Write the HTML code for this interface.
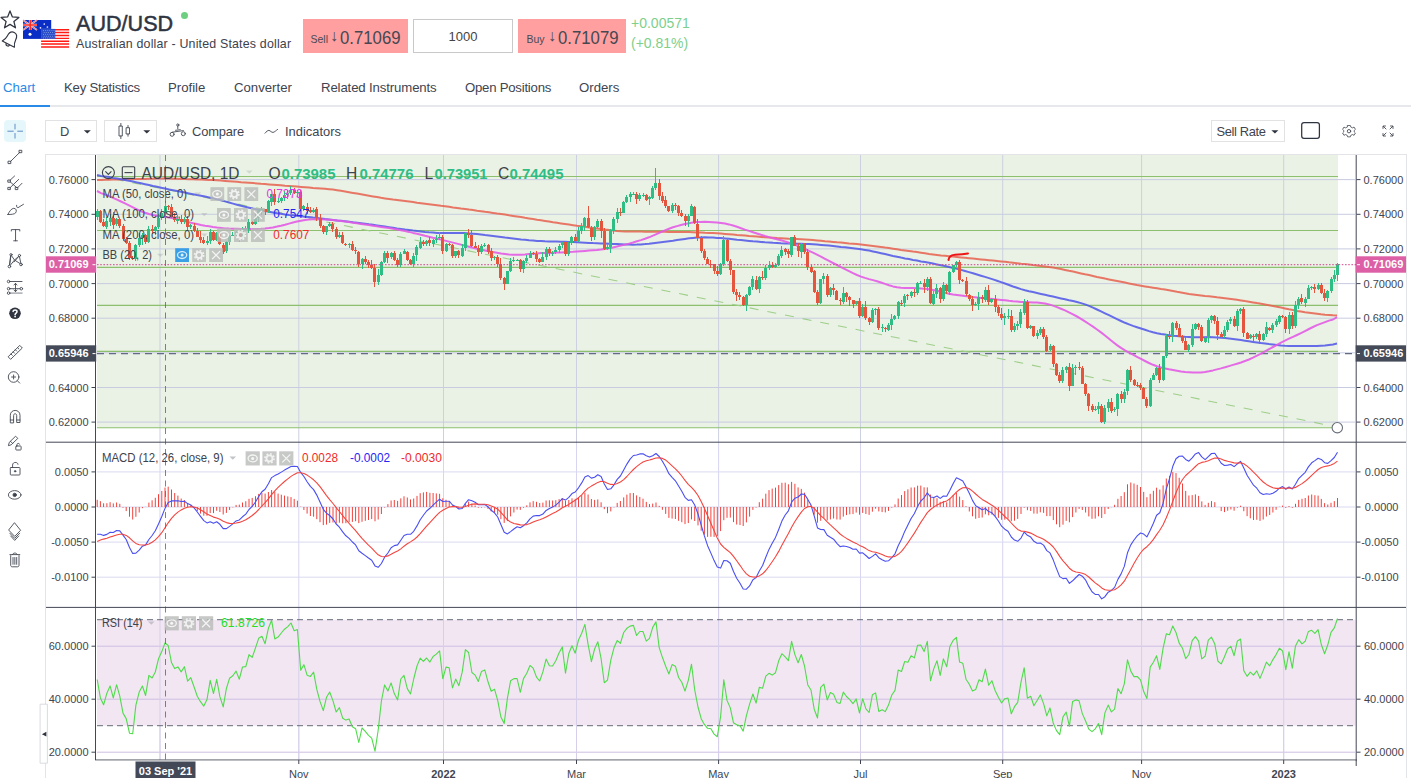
<!DOCTYPE html>
<html><head><meta charset="utf-8"><title>AUD/USD</title>
<style>
*{box-sizing:border-box}
html,body{margin:0;padding:0;background:#fff}
body{width:1422px;height:778px;overflow:hidden;position:relative;font-family:"Liberation Sans",sans-serif;color:#3a3f4a}
.abs{position:absolute;white-space:nowrap}
#title{left:76px;top:11px;font-size:21.6px;line-height:25px;color:#2f3441;-webkit-text-stroke:0.5px #2f3441}
#sub{left:76px;top:37px;font-size:12.4px;line-height:15px;color:#3c414d;letter-spacing:.18px}
.pbox{top:18.7px;height:34.2px;background:#ff9f9f;color:#444;}
.pbox .s{position:absolute;top:14px;font-size:10.5px;color:#4a4a55}
.pbox .a{position:absolute;top:8.5px;font-size:16px;color:#4a4a55}
.pbox .v{position:absolute;top:9px;font-size:18px;color:#454852;transform:scaleX(.93);transform-origin:0 0}
#qty{left:413px;top:18.7px;width:100px;height:34.2px;border:1px solid #c9c9c9;text-align:center;font-size:13px;line-height:33.5px;color:#444}
.chg{left:631px;font-size:14px;color:#7dcf8b}
.tab{top:80px;font-size:13.2px;color:#40444f}
.tbtn{top:120px;height:22px;border:1px solid #e2e2e2;background:#fff}
.tl{font-size:12.9px;color:#40444f;top:123.5px}
.lg{font-size:11.8px;color:#3d424c}
.ib{width:14px;height:14px;background:#bdbdbd;opacity:.85}
.ib.b{background:#3b9fe6;opacity:1}
.ib svg{display:block}
</style></head><body>
<!-- header -->
<svg class="abs" style="left:0;top:0" width="75" height="60" viewBox="0 0 75 60">
 <path d="M10.0 10.9L12.4 16.9L18.9 17.4L13.9 21.5L15.5 27.8L10.0 24.4L4.5 27.8L6.1 21.5L1.1 17.4L7.6 16.9Z" fill="none" stroke="#30343f" stroke-width="1.25" stroke-linejoin="round"/>
 <g transform="translate(10.8 39.3) rotate(27) scale(.92) translate(-10 -39.5)" fill="none" stroke="#30343f" stroke-width="1.25" stroke-linejoin="round"><path d="M10 31.2C6.3 31.2 5 34.6 5 38C5 41.6 3.8 43.6 2.6 45.4H17.4C16.2 43.6 15 41.6 15 38C15 34.6 13.7 31.2 10 31.2Z"/><path d="M7.6 45.6a2 2 0 0 0 4 0"/></g>
 <!-- AU flag -->
 <rect x="23" y="20" width="28.2" height="18.9" fill="#0a2dc6"/>
 <path d="M23 20l14 10M37 20L23 30" stroke="#dfe3f7" stroke-width="1.6"/>
 <path d="M23 20l14 10M37 20L23 30" stroke="#ff3b30" stroke-width=".7"/>
 <path d="M30.2 20v10M23 25h14" stroke="#e9ecfa" stroke-width="2.6"/>
 <path d="M30.2 20v10M23 25h14" stroke="#ff2a20" stroke-width="1.7"/>
 <circle cx="30" cy="34.2" r="1.5" fill="#fff"/><circle cx="44.3" cy="24" r=".85" fill="#e6eaff"/><circle cx="47.4" cy="27" r=".85" fill="#e6eaff"/><circle cx="40.5" cy="27.8" r=".85" fill="#e6eaff"/>
 <!-- US flag -->
 <rect x="41.1" y="28.9" width="28" height="19" fill="#fff"/>
 <path d="M41.1 29.65h28M41.1 32.55h28M41.1 35.45h28M41.1 38.35h28M41.1 41.2h28M41.1 44.05h28M41.1 47h28" stroke="#ff1a14" stroke-width="1.45"/>
 <rect x="41.1" y="28.9" width="14.2" height="10" fill="#2a4dc9"/>
 <path d="M43 30.6h11.5M43.7 32.5h11M43 34.4h11.5M43.7 36.300h11M43 38h11.5" stroke="#7f97e4" stroke-width=".9" stroke-dasharray="1,1.1"/>
</svg>
<div class="abs" id="title">AUD/USD</div>
<div class="abs" style="left:181px;top:12px;width:7px;height:7px;border-radius:50%;background:#6ecf80"></div>
<div class="abs" id="sub">Australian dollar - United States dollar</div>
<div class="abs pbox" style="left:303px;width:105px"><span class="s" style="left:7.5px">Sell</span><span class="a" style="left:27px">&#8595;</span><span class="v" style="left:37px">0.71069</span></div>
<div class="abs" id="qty">1000</div>
<div class="abs pbox" style="left:518px;width:107.5px"><span class="s" style="left:8.5px">Buy</span><span class="a" style="left:30px">&#8595;</span><span class="v" style="left:39.6px">0.71079</span></div>
<div class="abs chg" style="top:15px">+0.00571</div>
<div class="abs chg" style="top:35px">(+0.81%)</div>
<!-- tabs -->
<div class="abs" style="left:0;top:104.6px;width:1411px;height:2px;background:#e6e8ec"></div>
<div class="abs" style="left:0;top:104.6px;width:50px;height:2px;background:#2a8ae6"></div>
<div class="abs tab" style="left:3px;color:#2a8ae6">Chart</div>
<div class="abs tab" style="left:64px;letter-spacing:-.23px">Key Statistics</div>
<div class="abs tab" style="left:168px">Profile</div>
<div class="abs tab" style="left:234px">Converter</div>
<div class="abs tab" style="left:321px;letter-spacing:-.13px">Related Instruments</div>
<div class="abs tab" style="left:465px;letter-spacing:-.24px">Open Positions</div>
<div class="abs tab" style="left:579px">Orders</div>
<!-- toolbar -->
<div class="abs tbtn" style="left:45px;width:52px"></div>
<div class="abs tl" style="left:60px">D</div>
<div class="abs tbtn" style="left:104px;width:52.5px"></div>
<div class="abs tl" style="left:192px;letter-spacing:-.15px">Compare</div>
<div class="abs tl" style="left:285px">Indicators</div>
<div class="abs tbtn" style="left:1211px;width:74px"></div>
<div class="abs tl" style="left:1216.5px;letter-spacing:-.35px">Sell Rate</div>
<svg class="abs" style="left:0;top:110px" width="1422" height="668" viewBox="0 110 1422 668">
<rect x="97" y="155" width="1241" height="272.7" fill="#e9f2e5"/>
<line x1="160" y1="155" x2="160" y2="442" stroke="#cdd0e1" stroke-width="1"/>
<line x1="160" y1="442" x2="160" y2="760" stroke="#d7d5f0" stroke-width="1"/>
<line x1="298.8" y1="155" x2="298.8" y2="442" stroke="#cdd0e1" stroke-width="1"/>
<line x1="298.8" y1="442" x2="298.8" y2="760" stroke="#d7d5f0" stroke-width="1"/>
<line x1="443.5" y1="155" x2="443.5" y2="442" stroke="#cdd0e1" stroke-width="1"/>
<line x1="443.5" y1="442" x2="443.5" y2="760" stroke="#d7d5f0" stroke-width="1"/>
<line x1="576.5" y1="155" x2="576.5" y2="442" stroke="#cdd0e1" stroke-width="1"/>
<line x1="576.5" y1="442" x2="576.5" y2="760" stroke="#d7d5f0" stroke-width="1"/>
<line x1="718.6" y1="155" x2="718.6" y2="442" stroke="#cdd0e1" stroke-width="1"/>
<line x1="718.6" y1="442" x2="718.6" y2="760" stroke="#d7d5f0" stroke-width="1"/>
<line x1="860.5" y1="155" x2="860.5" y2="442" stroke="#cdd0e1" stroke-width="1"/>
<line x1="860.5" y1="442" x2="860.5" y2="760" stroke="#d7d5f0" stroke-width="1"/>
<line x1="1002.7" y1="155" x2="1002.7" y2="442" stroke="#cdd0e1" stroke-width="1"/>
<line x1="1002.7" y1="442" x2="1002.7" y2="760" stroke="#d7d5f0" stroke-width="1"/>
<line x1="1141.6" y1="155" x2="1141.6" y2="442" stroke="#cdd0e1" stroke-width="1"/>
<line x1="1141.6" y1="442" x2="1141.6" y2="760" stroke="#d7d5f0" stroke-width="1"/>
<line x1="1283.7" y1="155" x2="1283.7" y2="442" stroke="#cdd0e1" stroke-width="1"/>
<line x1="1283.7" y1="442" x2="1283.7" y2="760" stroke="#d7d5f0" stroke-width="1"/>
<line x1="97" y1="179.6" x2="1355" y2="179.6" stroke="#c8cce0" stroke-width="1"/>
<line x1="97" y1="214.3" x2="1355" y2="214.3" stroke="#c8cce0" stroke-width="1"/>
<line x1="97" y1="248.9" x2="1355" y2="248.9" stroke="#c8cce0" stroke-width="1"/>
<line x1="97" y1="283.6" x2="1355" y2="283.6" stroke="#c8cce0" stroke-width="1"/>
<line x1="97" y1="318.2" x2="1355" y2="318.2" stroke="#c8cce0" stroke-width="1"/>
<line x1="97" y1="352.8" x2="1355" y2="352.8" stroke="#c8cce0" stroke-width="1"/>
<line x1="97" y1="387.5" x2="1355" y2="387.5" stroke="#c8cce0" stroke-width="1"/>
<line x1="97" y1="422.1" x2="1355" y2="422.1" stroke="#c8cce0" stroke-width="1"/>
<line x1="97" y1="471.9" x2="1355" y2="471.9" stroke="#d9d9f0" stroke-width="1"/>
<line x1="97" y1="507" x2="1355" y2="507" stroke="#d9d9f0" stroke-width="1"/>
<line x1="97" y1="542.1" x2="1355" y2="542.1" stroke="#d9d9f0" stroke-width="1"/>
<line x1="97" y1="577.2" x2="1355" y2="577.2" stroke="#d9d9f0" stroke-width="1"/>
<rect x="97" y="619.7" width="1258.5" height="106" fill="#f2e6f3"/>
<line x1="97" y1="646.2" x2="1355" y2="646.2" stroke="#cdbfe3" stroke-width="1"/>
<line x1="97" y1="699.2" x2="1355" y2="699.2" stroke="#cdbfe3" stroke-width="1"/>
<line x1="97" y1="752.2" x2="1355" y2="752.2" stroke="#cdbfe3" stroke-width="1"/>
<line x1="160" y1="608" x2="160" y2="760" stroke="#d6cfea" stroke-width="1"/>
<line x1="298.8" y1="608" x2="298.8" y2="760" stroke="#d6cfea" stroke-width="1"/>
<line x1="443.5" y1="608" x2="443.5" y2="760" stroke="#d6cfea" stroke-width="1"/>
<line x1="576.5" y1="608" x2="576.5" y2="760" stroke="#d6cfea" stroke-width="1"/>
<line x1="718.6" y1="608" x2="718.6" y2="760" stroke="#d6cfea" stroke-width="1"/>
<line x1="860.5" y1="608" x2="860.5" y2="760" stroke="#d6cfea" stroke-width="1"/>
<line x1="1002.7" y1="608" x2="1002.7" y2="760" stroke="#d6cfea" stroke-width="1"/>
<line x1="1141.6" y1="608" x2="1141.6" y2="760" stroke="#d6cfea" stroke-width="1"/>
<line x1="1283.7" y1="608" x2="1283.7" y2="760" stroke="#d6cfea" stroke-width="1"/>
<line x1="97" y1="619.7" x2="1355" y2="619.7" stroke="#666a75" stroke-width="1" stroke-dasharray="6,4"/>
<line x1="97" y1="725.7" x2="1355" y2="725.7" stroke="#666a75" stroke-width="1" stroke-dasharray="6,4"/>
<line x1="97" y1="176.5" x2="1338" y2="176.5" stroke="#8cc06e" stroke-width="1.15"/>
<line x1="97" y1="230.5" x2="1338" y2="230.5" stroke="#8cc06e" stroke-width="1.15"/>
<line x1="97" y1="267.3" x2="1338" y2="267.3" stroke="#8cc06e" stroke-width="1.15"/>
<line x1="97" y1="305.3" x2="1338" y2="305.3" stroke="#8cc06e" stroke-width="1.15"/>
<line x1="97" y1="351.3" x2="1338" y2="351.3" stroke="#8cc06e" stroke-width="1.15"/>
<line x1="97" y1="427.7" x2="1338" y2="427.7" stroke="#8cc06e" stroke-width="1.15"/>
<line x1="97" y1="175.5" x2="1337" y2="427" stroke="#9fce89" stroke-width="1.05" stroke-dasharray="9,9"/>
<line x1="97" y1="353.6" x2="1356" y2="353.6" stroke="#636b84" stroke-width="1.15" stroke-dasharray="7,5"/>
<path d="M97 180L101 179.9L105 179.8L109 179.7L113 179.6L117 179.5L121 179.4L125 179.3L129 179.2L133 179.1L137 179L141 178.9L145 178.9L149 178.8L153 178.7L157 178.6L161 178.5L165 178.5L169 178.6L173 178.7L177 178.8L181 178.9L185 179.1L189 179.2L193 179.3L197 179.5L201 179.6L205 179.7L209 179.9L213 180.1L217 180.3L221 180.6L225 180.9L229 181.2L233 181.5L237 181.8L241 182.2L245 182.5L249 182.8L253 183.1L257 183.4L261 183.8L265 184.1L269 184.4L273 184.7L277 185L281 185.3L285 185.7L289 186L293 186.3L297 186.6L301 186.9L305 187.2L309 187.5L313 187.9L317 188.2L321 188.5L325 188.8L329 189.2L333 189.6L337 190.2L341 190.8L345 191.5L349 192.2L353 192.9L357 193.6L361 194.3L365 195L369 195.7L373 196.4L377 197.1L381 197.8L385 198.4L389 199L393 199.6L397 200.1L401 200.6L405 201.1L409 201.6L413 202.1L417 202.7L421 203.2L425 203.7L429 204.2L433 204.7L437 205.2L441 205.8L445 206.3L449 206.8L453 207.4L457 207.9L461 208.5L465 209L469 209.6L473 210.1L477 210.7L481 211.2L485 211.8L489 212.3L493 212.9L497 213.5L501 214L505 214.6L509 215.3L513 215.9L517 216.5L521 217.1L525 217.8L529 218.4L533 219L537 219.7L541 220.3L545 220.9L549 221.5L553 222.2L557 222.8L561 223.4L565 224L569 224.6L573 225.2L577 225.8L581 226.3L585 226.8L589 227.4L593 227.9L597 228.4L601 228.9L605 229.5L609 230L613 230.5L617 230.9L621 231.2L625 231.4L629 231.6L633 231.6L637 231.6L641 231.6L645 231.7L649 231.7L653 231.7L657 231.8L661 231.8L665 231.8L669 231.9L673 231.9L677 231.9L681 232L685 232L689 232.1L693 232.2L697 232.4L701 232.6L705 232.8L709 232.9L713 233.1L717 233.3L721 233.6L725 233.9L729 234.2L733 234.5L737 234.9L741 235.2L745 235.6L749 236L753 236.3L757 236.6L761 236.9L765 237.2L769 237.4L773 237.7L777 238L781 238.2L785 238.4L789 238.7L793 238.9L797 239.1L801 239.3L805 239.5L809 239.8L813 240.1L817 240.4L821 240.8L825 241.2L829 241.5L833 241.9L837 242.3L841 242.6L845 243L849 243.4L853 243.7L857 244.1L861 244.5L865 244.9L869 245.4L873 245.9L877 246.4L881 247L885 247.6L889 248.1L893 248.7L897 249.3L901 249.9L905 250.4L909 251L913 251.6L917 252.1L921 252.7L925 253.3L929 253.9L933 254.4L937 254.9L941 255.4L945 255.8L949 256.2L953 256.6L957 257L961 257.4L965 257.8L969 258.2L973 258.6L977 259L981 259.4L985 259.8L989 260.2L993 260.6L997 261L1001 261.4L1005 261.8L1009 262.3L1013 262.7L1017 263.2L1021 263.7L1025 264.1L1029 264.6L1033 265.1L1037 265.5L1041 266L1045 266.5L1049 267L1053 267.6L1057 268.3L1061 269L1065 269.9L1069 270.8L1073 271.6L1077 272.5L1081 273.4L1085 274.3L1089 275.1L1093 276L1097 276.9L1101 277.7L1105 278.6L1109 279.4L1113 280.2L1117 281L1121 281.8L1125 282.6L1129 283.4L1133 284.2L1137 285L1141 285.7L1145 286.4L1149 287.1L1153 287.7L1157 288.3L1161 289L1165 289.6L1169 290.3L1173 291L1177 291.8L1181 292.5L1185 293.2L1189 293.9L1193 294.4L1197 294.9L1201 295.4L1205 295.9L1209 296.3L1213 296.8L1217 297.3L1221 297.7L1225 298.2L1229 298.7L1233 299.2L1237 299.8L1241 300.4L1245 301.1L1249 301.7L1253 302.4L1257 303.1L1261 303.7L1265 304.4L1269 305.2L1273 306L1277 306.8L1281 307.6L1285 308.4L1289 309.3L1293 310.1L1297 310.9L1301 311.6L1305 312.3L1309 312.8L1313 313.3L1317 313.8L1321 314.3L1325 314.7L1329 315L1333 315.3L1337 315.5" stroke="#e8604f" stroke-opacity="0.85" stroke-width="2" fill="none" stroke-linejoin="round"/>
<path d="M97 175L101 175.9L105 176.4L109 177.1L113 177.9L117 178.6L121 179.3L125 180L129 180.8L133 181.6L137 182.4L141 183.3L145 184.2L149 185.1L153 186L157 186.8L161 187.7L165 188.6L169 189.4L173 190.2L177 191L181 191.8L185 192.6L189 193.4L193 194.2L197 195L201 195.8L205 196.6L209 197.4L213 198.3L217 199.3L221 200.3L225 201.4L229 202.5L233 203.6L237 204.7L241 205.8L245 206.8L249 207.7L253 208.6L257 209.4L261 210.2L265 210.9L269 211.7L273 212.5L277 213.2L281 213.8L285 214.4L289 214.9L293 215.3L297 215.8L301 216.2L305 216.7L309 217.1L313 217.6L317 218L321 218.5L325 219L329 219.4L333 219.9L337 220.4L341 220.8L345 221.3L349 221.8L353 222.3L357 222.7L361 223.2L365 223.7L369 224.3L373 224.8L377 225.4L381 226L385 226.6L389 227.2L393 227.8L397 228.4L401 228.9L405 229.5L409 230L413 230.5L417 230.9L421 231.4L425 231.9L429 232.3L433 232.6L437 232.9L441 233L445 233L449 233L453 233L457 233L461 233L465 233.1L469 233.4L473 233.7L477 234.1L481 234.6L485 235.1L489 235.5L493 236L497 236.5L501 237L505 237.5L509 237.9L513 238.4L517 238.9L521 239.4L525 239.8L529 240.3L533 240.6L537 240.9L541 241.1L545 241.3L549 241.4L553 241.5L557 241.6L561 241.7L565 241.8L569 242L573 242.1L577 242.3L581 242.5L585 242.7L589 242.9L593 243.1L597 243.2L601 243.4L605 243.6L609 243.8L613 244L617 244.1L621 244.3L625 244.5L629 244.6L633 244.7L637 244.6L641 244.4L645 244.1L649 243.7L653 243.2L657 242.7L661 242.2L665 241.7L669 241.2L673 240.7L677 240.1L681 239.5L685 238.9L689 238.3L693 237.9L697 237.5L701 237.4L705 237.3L709 237.5L713 237.6L717 237.9L721 238.1L725 238.4L729 238.8L733 239.2L737 239.7L741 240.1L745 240.5L749 240.9L753 241.3L757 241.6L761 241.9L765 242.2L769 242.4L773 242.7L777 242.9L781 243.2L785 243.4L789 243.5L793 243.6L797 243.7L801 243.7L805 243.9L809 244L813 244.3L817 244.6L821 244.9L825 245.2L829 245.6L833 246L837 246.4L841 246.9L845 247.3L849 247.8L853 248.3L857 248.8L861 249.3L865 249.9L869 250.6L873 251.4L877 252.3L881 253.2L885 254.1L889 255L893 255.9L897 256.7L901 257.6L905 258.4L909 259.1L913 259.9L917 260.6L921 261.4L925 262.1L929 262.8L933 263.6L937 264.4L941 265.2L945 266.1L949 267L953 267.9L957 268.9L961 269.9L965 271L969 272.1L973 273.3L977 274.5L981 275.7L985 276.9L989 278.1L993 279.4L997 280.7L1001 282.1L1005 283.5L1009 285L1013 286.5L1017 287.8L1021 289.1L1025 290.2L1029 291.2L1033 292.1L1037 293L1041 293.9L1045 294.8L1049 295.7L1053 296.6L1057 297.5L1061 298.4L1065 299.3L1069 300.2L1073 301L1077 302L1081 303.1L1085 304.4L1089 305.9L1093 307.6L1097 309.5L1101 311.4L1105 313.3L1109 315.2L1113 317.2L1117 319.1L1121 321L1125 322.8L1129 324.4L1133 325.9L1137 327.2L1141 328.5L1145 329.8L1149 331.1L1153 332.2L1157 333.2L1161 334L1165 334.6L1169 335.2L1173 335.7L1177 336.1L1181 336.5L1185 336.8L1189 337L1193 337.2L1197 337.3L1201 337.2L1205 337.2L1209 337.1L1213 337.2L1217 337.4L1221 337.7L1225 338.1L1229 338.6L1233 339.1L1237 339.6L1241 340.1L1245 340.7L1249 341.3L1253 341.9L1257 342.5L1261 343.1L1265 343.6L1269 344.1L1273 344.5L1277 345L1281 345.4L1285 345.7L1289 345.9L1293 346L1297 346L1301 346L1305 346L1309 346L1313 346L1317 345.9L1321 345.7L1325 345.5L1329 345L1333 344.5L1337 343.6" stroke="#4f55e8" stroke-opacity="0.85" stroke-width="2" fill="none" stroke-linejoin="round"/>
<path d="M97 191L101 193.1L105 194.5L109 196.2L113 197.9L117 199.7L121 201.5L125 203.4L129 205.3L133 207.3L137 209.3L141 211.2L145 212.7L149 214L153 215L157 215.7L161 216.2L165 216.8L169 217.5L173 218.2L177 219.1L181 220.1L185 221.2L189 222.3L193 223.2L197 224.1L201 225L205 225.7L209 226.3L213 227L217 227.6L221 228L225 228.4L229 228.6L233 228.7L237 228.8L241 228.9L245 228.9L249 229L253 229L257 229L261 228.8L265 228.5L269 228L273 227.4L277 226.6L281 225.7L285 224.7L289 223.6L293 222.5L297 221.6L301 220.7L305 220L309 219.6L313 219.3L317 219.2L321 219.3L325 219.5L329 219.7L333 220.1L337 220.5L341 221L345 221.6L349 222.1L353 222.7L357 223.3L361 223.9L365 224.5L369 225.1L373 225.7L377 226.3L381 226.9L385 227.5L389 228.1L393 228.8L397 229.4L401 230.2L405 231L409 231.9L413 232.9L417 233.8L421 234.8L425 235.8L429 236.7L433 237.7L437 238.6L441 239.6L445 240.6L449 241.6L453 242.6L457 243.6L461 244.6L465 245.7L469 246.7L473 247.7L477 248.7L481 249.6L485 250.4L489 251.2L493 252L497 252.7L501 253.4L505 253.9L509 254.4L513 254.7L517 254.8L521 254.7L525 254.4L529 254L533 253.7L537 253.4L541 253.1L545 253L549 252.9L553 252.7L557 252.6L561 252.4L565 252.2L569 252L573 251.8L577 251.5L581 251.2L585 250.9L589 250.6L593 250.3L597 250L601 249.5L605 248.9L609 248.2L613 247.4L617 246.5L621 245.6L625 244.6L629 243.6L633 242.5L637 241.3L641 240.1L645 238.8L649 237.3L653 235.6L657 233.8L661 232L665 230.3L669 228.7L673 227.3L677 226.1L681 225L685 224.1L689 223.2L693 222.6L697 222.1L701 221.9L705 221.8L709 221.9L713 222.2L717 222.5L721 222.9L725 223.5L729 224.4L733 225.5L737 226.8L741 228.2L745 229.6L749 230.9L753 232.2L757 233.5L761 234.8L765 236L769 237.1L773 238.2L777 239.3L781 240.3L785 241.4L789 242.7L793 244.1L797 245.6L801 247.2L805 249L809 250.8L813 252.7L817 254.7L821 256.7L825 258.8L829 260.9L833 263L837 265L841 267.1L845 269.1L849 271.1L853 273.2L857 275L861 276.6L865 277.9L869 279.1L873 280.1L877 281.2L881 282.5L885 283.9L889 285.2L893 286.4L897 287.3L901 287.8L905 288L909 288L913 288.1L917 288.2L921 288.5L925 288.8L929 289.2L933 289.9L937 290.8L941 291.8L945 292.8L949 293.8L953 294.6L957 295.1L961 295.6L965 296.1L969 296.6L973 297.1L977 297.5L981 297.9L985 298.3L989 298.7L993 299.1L997 299.5L1001 299.9L1005 300.3L1009 300.8L1013 301.2L1017 301.5L1021 301.9L1025 302.1L1029 302.3L1033 302.5L1037 302.6L1041 302.9L1045 303.5L1049 304.4L1053 305.6L1057 307.1L1061 308.7L1065 310.4L1069 312.3L1073 314.3L1077 316.5L1081 318.8L1085 321.4L1089 324L1093 326.7L1097 329.5L1101 332.4L1105 335.5L1109 338.7L1113 342L1117 345.1L1121 347.9L1125 350.4L1129 352.7L1133 354.7L1137 356.8L1141 358.9L1145 361L1149 363L1153 364.8L1157 366.3L1161 367.5L1165 368.4L1169 369.3L1173 370L1177 370.7L1181 371.4L1185 371.9L1189 372.2L1193 372.5L1197 372.6L1201 372.4L1205 372L1209 371.3L1213 370.4L1217 369.4L1221 368.4L1225 367.3L1229 366.1L1233 364.9L1237 363.7L1241 362.5L1245 361L1249 359.5L1253 357.7L1257 355.7L1261 353.6L1265 351.4L1269 349.2L1273 347L1277 344.9L1281 342.7L1285 340.7L1289 338.7L1293 336.8L1297 335L1301 333.1L1305 331.1L1309 329L1313 327L1317 325.1L1321 323.6L1325 322.1L1329 320.6L1333 319.5L1337 317.2" stroke="#e35be6" stroke-opacity="0.9" stroke-width="2" fill="none" stroke-linejoin="round"/>
<path d="M97.5 209V220M106.5 217V229M110.5 214V226M116.5 218V226M135.5 244V261M139.5 233V247M142.5 233V245M148.5 226V243M155.5 226V235M158.5 214V229M161.5 209V220M165.5 201V219M177.5 215V224M184.5 217V224M190.5 224V229M207.5 236V245M210.5 229V244M216.5 232V241M226.5 241V253M229.5 235V245M232.5 232V236M236.5 231V236M242.5 227V239M245.5 226V231M248.5 219V233M255.5 213V225M258.5 210V222M261.5 207V215M268.5 200V213M271.5 194V206M278.5 198V203M281.5 197V203M284.5 191V201M287.5 190V199M290.5 186V195M297.5 190V197M303.5 205V211M313.5 208V213M326.5 226V235M329.5 222V227M339.5 232V238M349.5 243V248M362.5 258V269M378.5 269V285M381.5 261V276M384.5 251V263M391.5 252V259M400.5 252V267M404.5 249V254M413.5 253V267M416.5 245V261M420.5 237V249M426.5 240V246M433.5 239V247M436.5 235V243M439.5 232V240M446.5 243V252M455.5 251V258M462.5 244V257M465.5 232V251M481.5 244V254M484.5 243V247M494.5 256V260M507.5 271V284M510.5 258V272M513.5 257V262M517.5 259V261M523.5 260V273M526.5 255V263M530.5 251V258M542.5 252V262M546.5 247V260M552.5 251V256M555.5 247V254M559.5 244V253M562.5 242V248M568.5 242V256M571.5 236V245M578.5 227V242M581.5 223V234M584.5 217V231M594.5 226V240M597.5 219V228M607.5 244V250M610.5 229V253M613.5 217V234M617.5 208V223M623.5 201V213M626.5 195V203M630.5 192V202M633.5 192V195M639.5 193V201M643.5 193V197M649.5 196V205M652.5 186V199M655.5 168V190M672.5 203V213M688.5 214V227M691.5 204V216M720.5 263V275M723.5 236V266M746.5 294V311M749.5 286V296M752.5 276V290M759.5 276V293M765.5 265V280M769.5 261V270M775.5 263V268M778.5 254V266M781.5 246V258M791.5 237V257M801.5 243V258M820.5 279V304M823.5 273V284M830.5 287V297M843.5 287V304M856.5 301V305M862.5 304V317M872.5 308V323M875.5 308V315M882.5 324V332M888.5 323V331M891.5 314V330M894.5 315V320M898.5 301V319M904.5 294V307M911.5 291V298M917.5 282V295M920.5 281V284M927.5 277V291M933.5 291V305M936.5 284V298M943.5 282V301M949.5 271V295M953.5 265V273M956.5 261V267M975.5 302V306M978.5 292V310M985.5 287V302M991.5 298V303M1004.5 313V325M1008.5 309V319M1014.5 323V332M1017.5 321V330M1020.5 309V328M1024.5 299V315M1030.5 325V329M1037.5 330V339M1040.5 327V335M1050.5 344V351M1062.5 367V383M1066.5 366V373M1072.5 364V386M1075.5 365V375M1095.5 406V411M1098.5 402V414M1104.5 405V424M1108.5 399V412M1114.5 407V412M1117.5 393V416M1124.5 389V403M1127.5 369V395M1150.5 378V407M1153.5 373V380M1156.5 367V376M1163.5 356V381M1166.5 334V358M1172.5 322V342M1188.5 344V352M1192.5 324V347M1195.5 323V330M1205.5 336V343M1208.5 318V343M1211.5 315V323M1224.5 326V338M1227.5 320V332M1230.5 317V324M1237.5 309V331M1240.5 308V314M1250.5 334V339M1256.5 333V339M1263.5 333V341M1266.5 322V337M1272.5 323V333M1276.5 319V327M1279.5 315V324M1289.5 312V334M1295.5 301V328M1298.5 297V309M1305.5 297V307M1308.5 285V299M1311.5 286V290M1318.5 283V290M1327.5 290V302M1331.5 277V293M1334.5 270V282M1337.5 263V281" stroke="#2ebd85" stroke-width="1" fill="none"/>
<path d="M100.5 210V223M103.5 219V227M113.5 212V229M119.5 218V228M123.5 224V241M126.5 237V244M129.5 241V260M132.5 256V260M145.5 234V244M152.5 225V234M168.5 205V210M171.5 204V218M174.5 213V222M181.5 215V224M187.5 216V231M194.5 223V232M197.5 228V237M200.5 231V243M203.5 237V244M213.5 231V241M219.5 233V245M223.5 243V254M239.5 231V242M252.5 221V225M265.5 209V215M274.5 189V205M294.5 188V194M300.5 190V211M307.5 203V214M310.5 207V213M316.5 207V221M320.5 214V228M323.5 225V234M332.5 222V232M336.5 227V239M342.5 232V244M345.5 243V246M352.5 241V251M355.5 247V254M358.5 251V267M365.5 256V264M368.5 260V268M371.5 260V269M374.5 264V287M387.5 251V263M394.5 251V261M397.5 258V267M407.5 251V261M410.5 259V265M423.5 240V246M429.5 237V246M442.5 235V254M449.5 243V246M452.5 244V258M458.5 250V258M468.5 229V238M471.5 230V247M475.5 242V248M478.5 245V256M488.5 244V254M491.5 248V261M497.5 255V267M500.5 258V280M504.5 277V290M520.5 259V272M533.5 252V255M536.5 251V262M539.5 258V263M549.5 247V256M565.5 241V256M575.5 234V242M588.5 206V228M591.5 226V241M601.5 219V238M604.5 228V250M620.5 208V216M636.5 192V204M646.5 194V201M659.5 179V200M662.5 192V203M665.5 196V208M668.5 206V212M675.5 203V210M678.5 205V216M681.5 210V217M685.5 214V226M694.5 206V224M697.5 219V241M701.5 236V253M704.5 249V260M707.5 257V264M710.5 260V268M714.5 264V274M717.5 266V276M727.5 238V262M730.5 259V275M733.5 270V294M736.5 289V301M739.5 292V300M743.5 296V306M756.5 276V290M762.5 271V280M772.5 262V268M785.5 248V255M788.5 249V258M794.5 235V246M798.5 243V257M804.5 243V254M807.5 249V270M811.5 265V273M814.5 270V293M817.5 290V305M827.5 274V297M833.5 284V295M836.5 290V300M840.5 298V305M846.5 292V302M849.5 296V306M853.5 300V308M859.5 298V318M865.5 301V320M869.5 317V325M878.5 307V330M885.5 327V332M901.5 300V306M907.5 294V300M914.5 289V297M924.5 279V293M930.5 277V304M940.5 287V303M946.5 284V294M959.5 260V284M962.5 279V282M966.5 277V296M969.5 294V301M972.5 296V311M982.5 295V303M988.5 285V305M995.5 295V312M998.5 305V316M1001.5 308V320M1011.5 310V332M1027.5 300V329M1033.5 326V337M1043.5 327V339M1046.5 335V352M1053.5 345V367M1056.5 363V376M1059.5 372V383M1069.5 363V391M1079.5 362V370M1082.5 366V384M1085.5 383V396M1088.5 393V411M1092.5 404V412M1101.5 404V423M1111.5 398V413M1121.5 391V403M1130.5 366V382M1134.5 379V386M1137.5 382V387M1140.5 383V390M1143.5 387V399M1146.5 397V408M1159.5 364V383M1169.5 331V339M1176.5 321V330M1179.5 324V337M1182.5 335V343M1185.5 337V350M1198.5 323V330M1201.5 325V342M1214.5 315V324M1217.5 317V340M1221.5 332V338M1234.5 316V327M1243.5 307V337M1247.5 332V339M1253.5 334V341M1259.5 331V344M1269.5 327V331M1282.5 315V318M1285.5 316V333M1292.5 312V329M1301.5 294V304M1314.5 284V293M1321.5 283V294M1324.5 289V301" stroke="#e5543c" stroke-width="1" fill="none"/>
<path d="M96 211h3v6h-3zM105 221h3v6h-3zM109 218h3v4h-3zM115 219h3v5h-3zM134 245h3v14h-3zM138 238h3v7h-3zM141 235h3v3h-3zM147 229h3v13h-3zM154 227h3v4h-3zM157 218h3v9h-3zM160 213h3v5h-3zM164 206h3v7h-3zM176 219h3v2h-3zM183 219h3v3h-3zM189 225h3v2h-3zM206 241h3v2h-3zM209 232h3v9h-3zM215 233h3v7h-3zM225 242h3v9h-3zM228 236h3v6h-3zM231 235h3v1h-3zM235 232h3v3h-3zM241 230h3v8h-3zM244 229h3v1h-3zM247 222h3v7h-3zM254 218h3v6h-3zM257 211h3v7h-3zM260 209h3v2h-3zM267 201h3v11h-3zM270 194h3v8h-3zM277 201h3v1h-3zM280 198h3v3h-3zM283 195h3v3h-3zM286 193h3v2h-3zM289 190h3v3h-3zM296 192h3v1h-3zM302 206h3v3h-3zM312 210h3v2h-3zM325 226h3v6h-3zM328 224h3v2h-3zM338 235h3v2h-3zM348 244h3v1h-3zM361 259h3v5h-3zM377 275h3v7h-3zM380 262h3v13h-3zM383 253h3v9h-3zM390 253h3v4h-3zM399 254h3v11h-3zM403 251h3v3h-3zM412 256h3v8h-3zM415 247h3v8h-3zM419 242h3v6h-3zM425 241h3v3h-3zM432 240h3v4h-3zM435 239h3v1h-3zM438 237h3v1h-3zM445 244h3v7h-3zM454 251h3v5h-3zM461 248h3v8h-3zM464 233h3v15h-3zM480 246h3v6h-3zM483 245h3v1h-3zM493 257h3v1h-3zM506 271h3v13h-3zM509 261h3v10h-3zM512 260h3v1h-3zM516 260h3v1h-3zM522 261h3v8h-3zM525 258h3v3h-3zM529 253h3v5h-3zM541 257h3v5h-3zM545 249h3v8h-3zM551 253h3v1h-3zM554 250h3v2h-3zM558 246h3v4h-3zM561 242h3v3h-3zM567 243h3v11h-3zM570 237h3v6h-3zM577 231h3v10h-3zM580 226h3v5h-3zM583 218h3v8h-3zM593 227h3v10h-3zM596 221h3v6h-3zM606 247h3v2h-3zM609 231h3v16h-3zM612 219h3v12h-3zM616 212h3v7h-3zM622 202h3v11h-3zM625 197h3v5h-3zM629 194h3v3h-3zM632 194h3v1h-3zM638 195h3v4h-3zM642 195h3v1h-3zM648 197h3v2h-3zM651 188h3v10h-3zM654 183h3v5h-3zM671 205h3v6h-3zM687 216h3v5h-3zM690 206h3v10h-3zM719 264h3v10h-3zM722 240h3v24h-3zM745 295h3v10h-3zM748 287h3v8h-3zM751 279h3v8h-3zM758 277h3v12h-3zM764 268h3v10h-3zM768 265h3v3h-3zM774 265h3v2h-3zM777 256h3v9h-3zM780 250h3v6h-3zM790 237h3v18h-3zM800 244h3v8h-3zM819 279h3v24h-3zM822 276h3v3h-3zM829 288h3v7h-3zM842 293h3v9h-3zM855 301h3v3h-3zM861 307h3v9h-3zM871 310h3v12h-3zM874 309h3v1h-3zM881 327h3v1h-3zM887 325h3v5h-3zM890 319h3v6h-3zM893 316h3v3h-3zM897 302h3v14h-3zM903 296h3v7h-3zM910 292h3v4h-3zM916 283h3v10h-3zM919 283h3v1h-3zM926 279h3v8h-3zM932 294h3v10h-3zM935 288h3v6h-3zM942 285h3v14h-3zM948 272h3v20h-3zM952 265h3v7h-3zM955 262h3v3h-3zM974 304h3v1h-3zM977 297h3v7h-3zM984 290h3v10h-3zM990 299h3v3h-3zM1003 316h3v2h-3zM1007 316h3v1h-3zM1013 326h3v4h-3zM1016 324h3v2h-3zM1019 312h3v12h-3zM1023 302h3v11h-3zM1029 326h3v2h-3zM1036 333h3v3h-3zM1039 329h3v4h-3zM1049 346h3v4h-3zM1061 370h3v11h-3zM1065 367h3v3h-3zM1071 368h3v18h-3zM1074 367h3v1h-3zM1094 409h3v1h-3zM1097 406h3v3h-3zM1103 408h3v14h-3zM1107 402h3v6h-3zM1113 409h3v1h-3zM1116 394h3v15h-3zM1123 392h3v7h-3zM1126 370h3v21h-3zM1149 380h3v26h-3zM1152 375h3v5h-3zM1155 368h3v7h-3zM1162 356h3v24h-3zM1165 336h3v20h-3zM1171 323h3v14h-3zM1187 345h3v5h-3zM1191 329h3v16h-3zM1194 324h3v5h-3zM1204 338h3v4h-3zM1207 320h3v18h-3zM1210 316h3v4h-3zM1223 330h3v6h-3zM1226 322h3v8h-3zM1229 319h3v2h-3zM1236 311h3v15h-3zM1239 309h3v2h-3zM1249 335h3v3h-3zM1255 334h3v3h-3zM1262 334h3v6h-3zM1265 327h3v7h-3zM1271 325h3v5h-3zM1275 321h3v4h-3zM1278 316h3v6h-3zM1288 315h3v14h-3zM1294 305h3v21h-3zM1297 299h3v6h-3zM1304 299h3v4h-3zM1307 288h3v11h-3zM1310 287h3v1h-3zM1317 285h3v4h-3zM1326 291h3v7h-3zM1330 279h3v12h-3zM1333 275h3v4h-3zM1336 264h3v11h-3z" fill="#2ebd85"/>
<path d="M99 211h3v11h-3zM102 222h3v4h-3zM112 218h3v7h-3zM118 219h3v7h-3zM122 226h3v13h-3zM125 239h3v4h-3zM128 243h3v15h-3zM131 258h3v1h-3zM144 235h3v7h-3zM151 229h3v2h-3zM167 206h3v1h-3zM170 207h3v10h-3zM173 218h3v2h-3zM180 219h3v3h-3zM186 219h3v8h-3zM193 226h3v5h-3zM196 231h3v6h-3zM199 237h3v3h-3zM202 240h3v3h-3zM212 232h3v8h-3zM218 234h3v10h-3zM222 245h3v7h-3zM238 232h3v5h-3zM251 222h3v2h-3zM264 209h3v3h-3zM273 194h3v8h-3zM293 190h3v3h-3zM299 192h3v17h-3zM306 207h3v4h-3zM309 210h3v2h-3zM315 209h3v9h-3zM319 218h3v8h-3zM322 226h3v6h-3zM331 224h3v5h-3zM335 229h3v8h-3zM341 235h3v8h-3zM344 244h3v1h-3zM351 244h3v6h-3zM354 250h3v1h-3zM357 252h3v12h-3zM364 259h3v3h-3zM367 262h3v3h-3zM370 265h3v3h-3zM373 268h3v14h-3zM386 253h3v5h-3zM393 253h3v7h-3zM396 260h3v5h-3zM406 252h3v8h-3zM409 260h3v4h-3zM422 242h3v2h-3zM428 240h3v3h-3zM441 237h3v14h-3zM448 244h3v1h-3zM451 245h3v11h-3zM457 251h3v4h-3zM467 233h3v2h-3zM470 235h3v11h-3zM474 246h3v2h-3zM477 248h3v4h-3zM487 245h3v7h-3zM490 251h3v7h-3zM496 257h3v7h-3zM499 264h3v14h-3zM503 278h3v6h-3zM519 260h3v9h-3zM532 253h3v1h-3zM535 254h3v5h-3zM538 259h3v3h-3zM548 249h3v4h-3zM564 242h3v12h-3zM574 237h3v4h-3zM587 218h3v9h-3zM590 228h3v9h-3zM600 221h3v10h-3zM603 231h3v18h-3zM619 212h3v1h-3zM635 194h3v5h-3zM645 195h3v5h-3zM658 183h3v13h-3zM661 196h3v5h-3zM664 200h3v6h-3zM667 206h3v5h-3zM674 205h3v1h-3zM677 206h3v7h-3zM680 213h3v3h-3zM684 216h3v5h-3zM693 207h3v16h-3zM696 224h3v14h-3zM700 238h3v13h-3zM703 251h3v7h-3zM706 259h3v5h-3zM709 264h3v1h-3zM713 264h3v7h-3zM716 271h3v3h-3zM726 240h3v21h-3zM729 261h3v9h-3zM732 270h3v22h-3zM735 292h3v3h-3zM738 295h3v2h-3zM742 297h3v8h-3zM755 280h3v9h-3zM761 277h3v1h-3zM771 265h3v2h-3zM784 249h3v3h-3zM787 251h3v3h-3zM793 237h3v9h-3zM797 246h3v5h-3zM803 245h3v7h-3zM806 252h3v15h-3zM810 267h3v5h-3zM813 271h3v21h-3zM816 292h3v11h-3zM826 276h3v19h-3zM832 288h3v2h-3zM835 291h3v9h-3zM839 300h3v1h-3zM845 293h3v4h-3zM848 297h3v3h-3zM852 300h3v4h-3zM858 301h3v15h-3zM864 307h3v11h-3zM868 318h3v4h-3zM877 309h3v19h-3zM884 328h3v1h-3zM900 303h3v1h-3zM906 295h3v1h-3zM913 292h3v1h-3zM923 283h3v4h-3zM929 279h3v24h-3zM939 288h3v11h-3zM945 285h3v6h-3zM958 262h3v18h-3zM961 280h3v1h-3zM965 281h3v13h-3zM968 295h3v4h-3zM971 299h3v6h-3zM981 297h3v2h-3zM987 290h3v12h-3zM994 299h3v8h-3zM997 307h3v6h-3zM1000 314h3v4h-3zM1010 316h3v14h-3zM1026 302h3v26h-3zM1032 326h3v10h-3zM1042 329h3v8h-3zM1045 337h3v14h-3zM1052 346h3v18h-3zM1055 364h3v11h-3zM1058 375h3v6h-3zM1068 367h3v19h-3zM1078 367h3v1h-3zM1081 368h3v16h-3zM1084 384h3v10h-3zM1087 394h3v12h-3zM1091 406h3v4h-3zM1100 406h3v16h-3zM1110 402h3v9h-3zM1120 394h3v5h-3zM1129 370h3v10h-3zM1133 380h3v5h-3zM1136 385h3v1h-3zM1139 385h3v3h-3zM1142 388h3v11h-3zM1145 399h3v7h-3zM1158 368h3v12h-3zM1168 336h3v1h-3zM1175 323h3v5h-3zM1178 328h3v9h-3zM1181 337h3v4h-3zM1184 341h3v9h-3zM1197 324h3v3h-3zM1200 327h3v14h-3zM1213 316h3v5h-3zM1216 321h3v14h-3zM1220 334h3v3h-3zM1233 319h3v7h-3zM1242 309h3v24h-3zM1246 333h3v6h-3zM1252 336h3v1h-3zM1258 334h3v6h-3zM1268 328h3v2h-3zM1281 316h3v1h-3zM1284 317h3v12h-3zM1291 315h3v11h-3zM1300 298h3v4h-3zM1313 287h3v2h-3zM1320 285h3v8h-3zM1323 293h3v5h-3z" fill="#e5543c"/>
<line x1="97" y1="264.7" x2="1356" y2="264.7" stroke="#d2478c" stroke-width="1" stroke-dasharray="1.6,1.6"/>
<path d="M948.5 260 C949 256.5 951 255 955 254.8 C959 254.6 964 254.2 968 253.4" stroke="#f01515" stroke-width="2" fill="none" stroke-linecap="round"/>
<circle cx="1337.3" cy="427.7" r="5.2" fill="#fff" stroke="#6a6e78" stroke-width="1.1"/>
<path d="M97.2 507V499.8M100.4 507V501.2M103.6 507V503.3M106.9 507V503.2M110.1 507V502.2M113.3 507V503.4M116.6 507V502.5M119.8 507V503.8M123 507V507.7M126.2 507V511.1M129.5 507V516.7M132.7 507V519.5M135.9 507V516.8M139.2 507V512.5M142.4 507V508.2M145.6 507V506.9M148.9 507V502.6M152.1 507V500.3M155.3 507V497.8M158.5 507V494.2M161.8 507V490.9M165 507V487.6M168.2 507V486.7M171.5 507V489.5M174.7 507V493M177.9 507V495.6M181.2 507V498.5M184.4 507V500M187.6 507V503.3M190.8 507V505.2M194.1 507V507.8M197.3 507V511M200.5 507V513.6M203.8 507V515.7M207 507V515.8M210.2 507V513.1M213.5 507V513.1M216.7 507V510.8M219.9 507V512M223.2 507V514.5M226.4 507V512.9M229.6 507V510M232.8 507V507.4M236.1 507V504.9M239.3 507V504.6M242.5 507V502.5M245.8 507V501.2M249 507V498.8M252.2 507V497.9M255.5 507V496.2M258.7 507V493.9M261.9 507V492.8M265.1 507V493.6M268.4 507V492M271.6 507V490M274.8 507V491.8M278.1 507V493.6M281.3 507V494.7M284.5 507V495.6M287.8 507V496.4M291 507V497.1M294.2 507V498.9M297.4 507V500.7M300.7 507V506.7M303.9 507V510M307.1 507V513.6M310.4 507V516M313.6 507V516.7M316.8 507V519.2M320 507V522.2M323.3 507V525.1M326.5 507V524.6M329.7 507V522.9M333 507V522.5M336.2 507V523.4M339.4 507V522.7M342.7 507V523.3M345.9 507V523.2M349.1 507V522M352.4 507V521.9M355.6 507V521.2M358.8 507V523.1M362 507V521.8M365.3 507V520.8M368.5 507V520M371.7 507V519.1M375 507V521.3M378.2 507V519.5M381.4 507V514M384.6 507V507.5M387.9 507V504.1M391.1 507V500.5M394.3 507V500M397.6 507V500.9M400.8 507V498.4M404 507V496.3M407.3 507V497.5M410.5 507V499.4M413.7 507V498.5M417 507V495.9M420.2 507V493.2M423.4 507V492.4M426.6 507V491.9M429.9 507V492.8M433.1 507V493M436.3 507V493.4M439.6 507V493.8M442.8 507V498.3M446 507V499.8M449.2 507V501.2M452.5 507V505.4M455.7 507V506.9M458.9 507V508.9M462.2 507V508.2M465.4 507V503.8M468.6 507V501.6M471.9 507V503.5M475.1 507V505.4M478.3 507V507.7M481.5 507V507.6M484.8 507V507.3M488 507V508.9M491.2 507V511.4M494.5 507V512.5M497.7 507V514.8M500.9 507V519.2M504.2 507V522.9M507.4 507V521.1M510.6 507V516.4M513.9 507V512.5M517.1 507V509.6M520.3 507V509.9M523.5 507V507.7M526.8 507V505.3M530 507V502.4M533.2 507V501.1M536.5 507V501.8M539.7 507V503M542.9 507V502.6M546.1 507V500.5M549.4 507V500.3M552.6 507V500.5M555.8 507V500.2M559.1 507V499.1M562.3 507V498M565.5 507V500.9M568.8 507V500M572 507V498.3M575.2 507V498.8M578.5 507V497.1M581.7 507V495.2M584.9 507V492.7M588.1 507V494.5M591.4 507V499M594.6 507V499.9M597.8 507V499.4M601.1 507V502.3M604.3 507V509.2M607.5 507V513.2M610.8 507V511.4M614 507V507.3M617.2 507V502.9M620.4 507V501M623.7 507V497.4M626.9 507V494.6M630.1 507V493.1M633.4 507V493M636.6 507V495.4M639.8 507V496.9M643 507V498.7M646.3 507V501.9M649.5 507V504.1M652.7 507V503.6M656 507V502.5M659.2 507V505.8M662.4 507V509.8M665.7 507V513.9M668.9 507V517.9M672.1 507V518.6M675.4 507V519M678.6 507V520.8M681.8 507V522.2M685 507V524.1M688.3 507V523.1M691.5 507V519.4M694.7 507V521M698 507V525.4M701.2 507V530.7M704.4 507V534.6M707.6 507V536.9M710.9 507V536.8M714.1 507V536.9M717.3 507V536M720.6 507V531.1M723.8 507V520.2M727 507V517.8M730.3 507V517.6M733.5 507V522.1M736.7 507V524.5M740 507V525M743.2 507V526M746.4 507V522.4M749.6 507V516.6M752.9 507V509.9M756.1 507V507.5M759.3 507V502.2M762.6 507V498.7M765.8 507V493.7M769 507V490.1M772.2 507V488.6M775.5 507V487.6M778.7 507V485.1M781.9 507V482.8M785.2 507V482.7M788.4 507V484.3M791.6 507V481.9M794.9 507V483.8M798.1 507V487.4M801.3 507V488.9M804.5 507V492.7M807.8 507V499.8M811 507V505.7M814.2 507V514.7M817.5 507V522.7M820.7 507V520.8M823.9 507V518.1M827.2 507V520.4M830.4 507V519.4M833.6 507V518.5M836.9 507V519.5M840.1 507V519.6M843.3 507V516.6M846.5 507V515.1M849.8 507V514.3M853 507V514.1M856.2 507V512.6M859.5 507V514.7M862.7 507V512.9M865.9 507V514M869.1 507V514.9M872.4 507V511.7M875.6 507V508.7M878.8 507V511.4M882.1 507V512.1M885.3 507V512.4M888.5 507V510.9M891.8 507V507.7M895 507V504.4M898.2 507V498.5M901.5 507V495M904.7 507V491.1M907.9 507V489.3M911.1 507V487.5M914.4 507V487.4M917.6 507V485.7M920.8 507V485.6M924.1 507V487.3M927.3 507V487.4M930.5 507V494.6M933.8 507V497.4M937 507V498.2M940.2 507V501.8M943.4 507V501M946.7 507V502.3M949.9 507V498.5M953.1 507V494.9M956.4 507V492.6M959.6 507V496.6M962.8 507V500.1M966 507V506.2M969.3 507V511.5M972.5 507V516.3M975.7 507V518.8M979 507V518M982.2 507V517.5M985.4 507V514.3M988.7 507V515.3M991.9 507V514.6M995.1 507V516M998.4 507V517.9M1001.6 507V519.8M1004.8 507V519.7M1008 507V518.7M1011.3 507V521.1M1014.5 507V520.7M1017.7 507V518.9M1021 507V514M1024.2 507V507.7M1027.4 507V510.2M1030.7 507V511M1033.9 507V513.6M1037.1 507V513.7M1040.3 507V512.3M1043.6 507V512.9M1046.8 507V516.1M1050 507V516.1M1053.3 507V520.1M1056.5 507V524.3M1059.7 507V527.2M1063 507V524.7M1066.2 507V520.9M1069.4 507V522.3M1072.6 507V517.1M1075.9 507V512.5M1079.1 507V508.9M1082.3 507V510M1085.6 507V512.5M1088.8 507V516.4M1092 507V518.8M1095.2 507V518.6M1098.5 507V516.3M1101.7 507V518M1104.9 507V514.1M1108.2 507V509M1111.4 507V507.2M1114.6 507V504.8M1117.9 507V498.8M1121.1 507V496M1124.3 507V492.2M1127.5 507V484.3M1130.8 507V482.5M1134 507V483.5M1137.2 507V484.8M1140.5 507V487M1143.7 507V491.9M1146.9 507V497.2M1150.2 507V493.8M1153.4 507V490.8M1156.6 507V487.7M1159.8 507V489.6M1163.1 507V485.4M1166.3 507V478.5M1169.5 507V475.8M1172.8 507V472.1M1176 507V473.1M1179.2 507V477.8M1182.5 507V483.5M1185.7 507V490.9M1188.9 507V495.5M1192.2 507V495.1M1195.4 507V494.4M1198.6 507V495.9M1201.8 507V501.4M1205.1 507V504.9M1208.3 507V502.8M1211.5 507V501.1M1214.8 507V502.2M1218 507V507M1221.2 507V511.1M1224.5 507V512.1M1227.7 507V510.7M1230.9 507V509.5M1234.1 507V510.7M1237.4 507V507.7M1240.6 507V505.7M1243.8 507V511.2M1247.1 507V516.2M1250.3 507V518.3M1253.5 507V520M1256.8 507V519.8M1260 507V520.9M1263.2 507V519.5M1266.4 507V516.5M1269.7 507V515M1272.9 507V512.5M1276.1 507V509.8M1279.4 507V506.8M1282.6 507V505.6M1285.8 507V507.9M1289 507V506M1292.3 507V507.8M1295.5 507V503.8M1298.7 507V499.9M1302 507V498.8M1305.2 507V498M1308.4 507V495.5M1311.7 507V494.5M1314.9 507V495.2M1318.1 507V495.6M1321.3 507V498.9M1324.6 507V503.1M1327.8 507V504.5M1331 507V502.8M1334.3 507V501.1M1337.5 507V498" stroke="#f0423c" stroke-width="1" fill="none"/>
<path d="M97.2 534.3L100.4 534.3L103.6 535.4L106.9 534.4L110.1 532.2L113.3 532.5L116.6 530.5L119.8 530.9L123 535.1L126.2 539.5L129.5 547.5L132.7 553.4L135.9 553.2L139.2 550.2L142.4 546.2L145.6 544.9L148.9 539.5L152.1 535.5L155.3 530.8L158.5 523.9L161.8 516.5L165 508.4L168.2 502.5L171.5 500.9L174.7 500.9L177.9 500.7L181.2 501.5L184.4 501.2L187.6 503.6L190.8 505L194.1 507.8L197.3 512L200.5 516.3L203.8 520.6L207 522.9L210.2 521.7L213.5 523.2L216.7 521.8L219.9 524.3L223.2 528.6L226.4 528.6L229.6 526.4L232.8 523.9L236.1 520.9L239.3 519.9L242.5 516.8L245.8 514.1L249 509.5L252.2 506.4L255.5 502L258.7 496.4L261.9 491.7L265.1 489.2L268.4 483.8L271.6 477.6L274.8 475.6L278.1 474L281.3 472.1L284.5 470.1L287.8 468.3L291 466.5L294.2 466.3L297.4 466.5L300.7 472.4L303.9 476.5L307.1 481.8L310.4 486.4L313.6 489.6L316.8 495.1L320 501.9L323.3 509.3L326.5 513.2L329.7 515.5L333 519L336.2 524L339.4 527.2L342.7 531.9L345.9 535.8L349.1 538.4L352.4 542L355.6 544.9L358.8 550.7L362 553.2L365.3 555.6L368.5 558L371.7 560.2L375 565.9L378.2 567.3L381.4 563.5L384.6 557.2L387.9 553L391.1 547.8L394.3 545.6L397.6 544.9L400.8 540.3L404 535.5L407.3 534.3L410.5 534.3L413.7 531.3L417 525.9L420.2 519.7L423.4 515.3L426.6 511L429.9 508.3L433.1 505.1L436.3 502.1L439.6 499.2L442.8 501.5L446 501.2L449.2 501.2L452.5 505L455.7 506.5L458.9 509L462.2 508.5L465.4 503.3L468.6 499.7L471.9 500.8L475.1 502.3L478.3 504.7L481.5 504.8L484.8 504.6L488 506.7L491.2 510.3L494.5 512.8L497.7 517L500.9 524.5L504.2 532.2L507.4 533.9L510.6 531.6L513.9 529L517.1 526.7L520.3 527.7L523.5 525.7L526.8 522.8L530 518.8L533.2 516.1L536.5 515.5L539.7 515.6L542.9 514.1L546.1 510.4L549.4 508.6L552.6 507.1L555.8 505.1L559.1 502.1L562.3 498.7L565.5 500.1L568.8 497.4L572 493.6L575.2 492L578.5 487.8L581.7 482.9L584.9 476.9L588.1 475.6L591.4 478.1L594.6 477.2L597.8 474.8L601.1 476.5L604.3 484L607.5 489.5L610.8 488.8L614 484.8L617.2 479.4L620.4 476L623.7 469.9L626.9 464.1L630.1 459.1L633.4 455.5L636.6 455L639.8 453.9L643 453.7L646.3 455.7L649.5 457.1L652.7 455.7L656 453.5L659.2 456.5L662.4 461.2L665.7 467.1L668.9 473.7L672.1 477.3L675.4 480.8L678.6 486L681.8 491.2L685 497.3L688.3 500.4L691.5 499.8L694.7 505L698 514L701.2 525.1L704.4 535.9L707.6 545.7L710.9 553.1L714.1 560.6L717.3 567L720.6 568.1L723.8 560.5L727 560.7L730.3 563.2L733.5 571.5L736.7 578.2L740 583.2L743.2 589L746.4 589.2L749.6 585.9L752.9 579.8L756.1 577.6L759.3 571L762.6 565.5L765.8 557.2L769 549.4L772.2 543.3L775.5 537.4L778.7 529.5L781.9 521.1L785.2 515L788.4 510.8L791.6 502.2L794.9 498.2L798.1 497L801.3 494L804.5 494.2L807.8 499.4L811 505.1L814.2 515.9L817.5 527.9L820.7 529.5L823.9 529.6L827.2 535.2L830.4 537.3L833.6 539.2L836.9 543.3L840.1 546.6L843.3 546L846.5 546.5L849.8 547.5L853 549.2L856.2 549L859.5 553.1L862.7 552.8L865.9 555.5L869.1 558.5L872.4 556.4L875.6 553.9L878.8 557.7L882.1 559.7L885.3 561.3L888.5 560.8L891.8 557.7L895 553.8L898.2 545.7L901.5 539.3L904.7 531.4L907.9 525.1L911.1 518.5L914.4 513.5L917.6 506.5L920.8 501L924.1 497.8L927.3 492.9L930.5 497L933.8 497.5L937 496L940.2 498.4L943.4 496L946.7 496.2L949.9 490.2L953.1 483.7L956.4 477.7L959.6 479.2L962.8 480.9L966 486.8L969.3 493.2L972.5 500.4L975.7 505.8L979 507.8L982.2 509.8L985.4 508.5L988.7 511.6L991.9 512.8L995.1 516.4L998.4 521L1001.6 526.2L1004.8 529.2L1008 531.2L1011.3 537L1014.5 540.1L1017.7 541.3L1021 538.1L1024.2 532L1027.4 535.3L1030.7 537.1L1033.9 541.3L1037.1 543.2L1040.3 543L1043.6 545.1L1046.8 550.6L1050 552.9L1053.3 560.1L1056.5 568.6L1059.7 576.6L1063 578.6L1066.2 578.3L1069.4 583.4L1072.6 580.8L1075.9 577.5L1079.1 574.5L1082.3 576.2L1085.6 580.1L1088.8 586.4L1092 591.8L1095.2 594.4L1098.5 594.5L1101.7 598.9L1104.9 596.7L1108.2 592.2L1111.4 590.4L1114.6 587.4L1117.9 579.4L1121.1 573.9L1124.3 566.4L1127.5 552.8L1130.8 544.9L1134 540L1137.2 535.8L1140.5 533L1143.7 534.1L1146.9 536.9L1150.2 530.2L1153.4 523.2L1156.6 515.3L1159.8 512.8L1163.1 503.2L1166.3 489.2L1169.5 478.7L1172.8 466.3L1176 458.8L1179.2 456.2L1182.5 456.1L1185.7 459.4L1188.9 461.2L1192.2 457.8L1195.4 453.9L1198.6 452.6L1201.8 456.8L1205.1 459.7L1208.3 456.6L1211.5 453.5L1214.8 453.3L1218 458.2L1221.2 463.2L1224.5 465.5L1227.7 465.1L1230.9 464.5L1234.1 466.6L1237.4 463.8L1240.6 461.4L1243.8 468L1247.1 475.3L1250.3 480.2L1253.5 485.2L1256.8 488.2L1260 492.7L1263.2 494.5L1266.4 493.8L1269.7 494.3L1272.9 493.2L1276.1 491.3L1279.4 488.2L1282.6 486.6L1285.8 489.2L1289 487L1292.3 489L1295.5 484.2L1298.7 478.6L1302 475.4L1305.2 472.3L1308.4 466.9L1311.7 462.8L1314.9 460.6L1318.1 458.2L1321.3 459.4L1324.6 462.7L1327.8 463.4L1331 460.6L1334.3 457.5L1337.5 452.2" stroke="#4a4ff0" stroke-width="1.1" fill="none" stroke-linejoin="round"/>
<path d="M97.2 541.5L100.4 540.1L103.6 539.1L106.9 538.2L110.1 537L113.3 536.1L116.6 535L119.8 534.2L123 534.3L126.2 535.4L129.5 537.8L132.7 540.9L135.9 543.4L139.2 544.7L142.4 545L145.6 545L148.9 543.9L152.1 542.2L155.3 539.9L158.5 536.7L161.8 532.7L165 527.8L168.2 522.8L171.5 518.4L174.7 514.9L177.9 512.1L181.2 509.9L184.4 508.2L187.6 507.3L190.8 506.8L194.1 507L197.3 508L200.5 509.7L203.8 511.8L207 514.1L210.2 515.6L213.5 517.1L216.7 518L219.9 519.3L223.2 521.2L226.4 522.6L229.6 523.4L232.8 523.5L236.1 523L239.3 522.4L242.5 521.2L245.8 519.8L249 517.8L252.2 515.5L255.5 512.8L258.7 509.5L261.9 506L265.1 502.6L268.4 498.9L271.6 494.6L274.8 490.8L278.1 487.4L281.3 484.4L284.5 481.5L287.8 478.9L291 476.4L294.2 474.4L297.4 472.8L300.7 472.7L303.9 473.5L307.1 475.1L310.4 477.4L313.6 479.8L316.8 482.9L320 486.7L323.3 491.2L326.5 495.6L329.7 499.6L333 503.5L336.2 507.6L339.4 511.5L342.7 515.6L345.9 519.6L349.1 523.4L352.4 527.1L355.6 530.7L358.8 534.7L362 538.4L365.3 541.8L368.5 545.1L371.7 548.1L375 551.7L378.2 554.8L381.4 556.5L384.6 556.7L387.9 555.9L391.1 554.3L394.3 552.6L397.6 551L400.8 548.9L404 546.2L407.3 543.8L410.5 541.9L413.7 539.8L417 537L420.2 533.6L423.4 529.9L426.6 526.1L429.9 522.6L433.1 519.1L436.3 515.7L439.6 512.4L442.8 510.2L446 508.4L449.2 507L452.5 506.6L455.7 506.6L458.9 507L462.2 507.3L465.4 506.5L468.6 505.2L471.9 504.3L475.1 503.9L478.3 504.1L481.5 504.2L484.8 504.3L488 504.8L491.2 505.9L494.5 507.2L497.7 509.2L500.9 512.3L504.2 516.2L507.4 519.8L510.6 522.1L513.9 523.5L517.1 524.1L520.3 524.9L523.5 525L526.8 524.6L530 523.4L533.2 522L536.5 520.7L539.7 519.7L542.9 518.6L546.1 516.9L549.4 515.2L552.6 513.6L555.8 511.9L559.1 510L562.3 507.7L565.5 506.2L568.8 504.4L572 502.3L575.2 500.2L578.5 497.7L581.7 494.8L584.9 491.2L588.1 488.1L591.4 486.1L594.6 484.3L597.8 482.4L601.1 481.2L604.3 481.8L607.5 483.3L610.8 484.4L614 484.5L617.2 483.5L620.4 482L623.7 479.6L626.9 476.5L630.1 473L633.4 469.5L636.6 466.6L639.8 464.1L643 462L646.3 460.7L649.5 460L652.7 459.1L656 458L659.2 457.7L662.4 458.4L665.7 460.1L668.9 462.9L672.1 465.8L675.4 468.8L678.6 472.2L681.8 476L685 480.3L688.3 484.3L691.5 487.4L694.7 490.9L698 495.5L701.2 501.4L704.4 508.3L707.6 515.8L710.9 523.3L714.1 530.7L717.3 538L720.6 544L723.8 547.3L727 550L730.3 552.6L733.5 556.4L736.7 560.8L740 565.3L743.2 570L746.4 573.9L749.6 576.3L752.9 577L756.1 577.1L759.3 575.9L762.6 573.8L765.8 570.5L769 566.3L772.2 561.7L775.5 556.8L778.7 551.4L781.9 545.3L785.2 539.2L788.4 533.6L791.6 527.3L794.9 521.5L798.1 516.6L801.3 512.1L804.5 508.5L807.8 506.7L811 506.4L814.2 508.3L817.5 512.2L820.7 515.7L823.9 518.4L827.2 521.8L830.4 524.9L833.6 527.8L836.9 530.9L840.1 534L843.3 536.4L846.5 538.4L849.8 540.2L853 542L856.2 543.4L859.5 545.4L862.7 546.8L865.9 548.6L869.1 550.6L872.4 551.7L875.6 552.2L878.8 553.3L882.1 554.5L885.3 555.9L888.5 556.9L891.8 557L895 556.4L898.2 554.3L901.5 551.3L904.7 547.3L907.9 542.9L911.1 538L914.4 533.1L917.6 527.8L920.8 522.4L924.1 517.5L927.3 512.6L930.5 509.5L933.8 507.1L937 504.9L940.2 503.6L943.4 502.1L946.7 500.9L949.9 498.7L953.1 495.7L956.4 492.1L959.6 489.5L962.8 487.8L966 487.6L969.3 488.7L972.5 491.1L975.7 494L979 496.8L982.2 499.4L985.4 501.2L988.7 503.3L991.9 505.2L995.1 507.4L998.4 510.1L1001.6 513.3L1004.8 516.5L1008 519.4L1011.3 523L1014.5 526.4L1017.7 529.4L1021 531.1L1024.2 531.3L1027.4 532.1L1030.7 533.1L1033.9 534.7L1037.1 536.4L1040.3 537.7L1043.6 539.2L1046.8 541.5L1050 543.8L1053.3 547L1056.5 551.4L1059.7 556.4L1063 560.8L1066.2 564.3L1069.4 568.2L1072.6 570.7L1075.9 572L1079.1 572.5L1082.3 573.3L1085.6 574.6L1088.8 577L1092 580L1095.2 582.9L1098.5 585.2L1101.7 587.9L1104.9 589.7L1108.2 590.2L1111.4 590.2L1114.6 589.7L1117.9 587.6L1121.1 584.9L1124.3 581.2L1127.5 575.5L1130.8 569.4L1134 563.5L1137.2 558L1140.5 553L1143.7 549.2L1146.9 546.7L1150.2 543.4L1153.4 539.4L1156.6 534.6L1159.8 530.2L1163.1 524.8L1166.3 517.7L1169.5 509.9L1172.8 501.2L1176 492.7L1179.2 485.4L1182.5 479.5L1185.7 475.5L1188.9 472.6L1192.2 469.7L1195.4 466.5L1198.6 463.7L1201.8 462.4L1205.1 461.8L1208.3 460.8L1211.5 459.3L1214.8 458.1L1218 458.1L1221.2 459.1L1224.5 460.4L1227.7 461.3L1230.9 462L1234.1 462.9L1237.4 463.1L1240.6 462.7L1243.8 463.8L1247.1 466.1L1250.3 468.9L1253.5 472.2L1256.8 475.4L1260 478.8L1263.2 482L1266.4 484.4L1269.7 486.3L1272.9 487.7L1276.1 488.4L1279.4 488.4L1282.6 488L1285.8 488.3L1289 488L1292.3 488.2L1295.5 487.4L1298.7 485.6L1302 483.6L1305.2 481.3L1308.4 478.5L1311.7 475.3L1314.9 472.4L1318.1 469.5L1321.3 467.5L1324.6 466.5L1327.8 465.9L1331 464.9L1334.3 463.4L1337.5 461.1" stroke="#f4453f" stroke-width="1.1" fill="none" stroke-linejoin="round"/>
<path d="M97.2 679.5L100.4 697.9L103.6 704.8L106.9 693.2L110.1 685.9L113.3 697.9L116.6 684.7L119.8 696.2L123 713.1L126.2 718.6L129.5 733.2L132.7 733.7L135.9 705.1L139.2 692.1L142.4 686L145.6 695.5L148.9 675.4L152.1 678L155.3 672L158.5 658.8L161.8 651.6L165 642.9L168.2 645.5L171.5 662.6L174.7 668.6L177.9 666.9L181.2 671.9L184.4 666.7L187.6 681.1L190.8 677.7L194.1 687L197.3 696.3L200.5 701.7L203.8 706.1L207 699.5L210.2 680.3L213.5 693.5L216.7 679.4L219.9 696.7L223.2 706.9L226.4 688.5L229.6 678.2L232.8 675.8L236.1 671.1L239.3 679.2L242.5 667L245.8 666.6L249 654.6L252.2 657.4L255.5 647.9L258.7 638.3L261.9 636.3L265.1 643.7L268.4 628.3L271.6 620.3L274.8 638.9L278.1 637.1L281.3 633L284.5 629.2L287.8 626.6L291 623L294.2 630.7L297.4 629.6L300.7 670.1L303.9 664.7L307.1 675.2L310.4 676.4L313.6 672.1L316.8 689.4L320 701.4L323.3 710.6L326.5 697.3L329.7 692L333 700.9L336.2 712L339.4 707.7L342.7 718.2L345.9 720.1L349.1 719L352.4 726.8L355.6 728.7L358.8 742.5L362 728L365.3 731.4L368.5 735.3L371.7 738.1L375 751.2L378.2 730L381.4 701L384.6 684.9L387.9 691L391.1 682.9L394.3 693.6L397.6 699.9L400.8 679L404 675.3L407.3 688.6L410.5 694L413.7 679L417 666L420.2 658.1L423.4 661.4L426.6 658L429.9 662.1L433.1 656.5L436.3 654.1L439.6 650.8L442.8 678.8L446 667.1L449.2 667.8L452.5 687.9L455.7 679.1L458.9 685.7L462.2 672.2L465.4 649.6L468.6 652.5L471.9 672.5L475.1 675.1L478.3 681.4L481.5 671.4L484.8 669.9L488 681.8L491.2 691.2L494.5 689.2L497.7 700.3L500.9 717L504.2 723.4L507.4 698.4L510.6 680.8L513.9 678.6L517.1 678.5L520.3 692.3L523.5 678.6L526.8 673.2L530 665.5L533.2 668.2L536.5 677.1L539.7 681L542.9 671.9L546.1 659.1L549.4 665.8L552.6 666L555.8 660.8L559.1 652.7L562.3 646.9L565.5 673.2L568.8 653.5L572 645.7L575.2 653.2L578.5 640L581.7 633.2L584.9 624.4L588.1 644.4L591.4 661.7L594.6 649L597.8 641.7L601.1 658.7L604.3 682.7L607.5 680.1L610.8 660.1L614 647.8L617.2 640.5L620.4 643.3L623.7 632.5L626.9 628.3L630.1 626.1L633.4 625.4L636.6 635.5L639.8 631.5L643 631.5L646.3 641.1L649.5 638.4L652.7 627.4L656 621.9L659.2 647.7L662.4 657.3L665.7 666.3L668.9 674L672.1 664.6L675.4 666.2L678.6 677.5L681.8 682.3L685 691.1L688.3 680.3L691.5 664.2L694.7 689.8L698 707L701.2 718.7L704.4 724.4L707.6 728.3L710.9 728.7L714.1 734.1L717.3 736.7L720.6 716.6L723.8 679.8L727 700.4L730.3 707.9L733.5 722.8L736.7 724.8L740 725.8L743.2 731.1L746.4 715.7L749.6 704.2L752.9 694L756.1 703.1L759.3 687.4L762.6 688.3L765.8 676.1L769 673.3L772.2 675.1L775.5 672.7L778.7 660.8L781.9 653.7L785.2 656.9L788.4 660.6L791.6 641.3L794.9 654.6L798.1 662.8L801.3 654.5L804.5 665.9L807.8 685L811 690L814.2 709.2L817.5 718L820.7 687.4L823.9 684.2L827.2 700L830.4 692.5L833.6 694.3L836.9 702.4L840.1 703.4L843.3 692.1L846.5 696.5L849.8 699.7L853 703.7L856.2 698.9L859.5 713L862.7 698.7L865.9 708.9L869.1 712.5L872.4 694.8L875.6 692.9L878.8 711.5L882.1 709.7L885.3 711.6L888.5 705.1L891.8 695L895 690.4L898.2 670.1L901.5 671.5L904.7 661.5L907.9 662.2L911.1 655.7L914.4 657.9L917.6 645.2L920.8 645L924.1 651.6L927.3 641.3L930.5 680.8L933.8 668.6L937 660.8L940.2 675.4L943.4 658.9L946.7 666.8L949.9 646.4L953.1 640.4L956.4 637.4L959.6 662.1L962.8 663.2L966 679.2L969.3 684.3L972.5 690.9L975.7 689.5L979 679.7L982.2 681.7L985.4 669.1L988.7 685.3L991.9 680.7L995.1 690.5L998.4 697.3L1001.6 702.9L1004.8 698.7L1008 698L1011.3 713.8L1014.5 706.7L1017.7 702.4L1021 682.2L1024.2 667.7L1027.4 698.2L1030.7 696.3L1033.9 705.7L1037.1 700.5L1040.3 694.9L1043.6 703.6L1046.8 715.9L1050 707.9L1053.3 723.3L1056.5 730.6L1059.7 734.6L1063 716.9L1066.2 712L1069.4 726.3L1072.6 701.4L1075.9 699.9L1079.1 700.8L1082.3 713.6L1085.6 721L1088.8 729.1L1092 731.6L1095.2 728.9L1098.5 723.5L1101.7 734.7L1104.9 712.9L1108.2 705.1L1111.4 711.9L1114.6 709.2L1117.9 688.6L1121.1 693.7L1124.3 683.8L1127.5 659.8L1130.8 671.1L1134 676.6L1137.2 676.5L1140.5 679.8L1143.7 691.6L1146.9 698.4L1150.2 667.1L1153.4 662.2L1156.6 655.8L1159.8 669.4L1163.1 648.2L1166.3 633.9L1169.5 634.8L1172.8 625.9L1176 632.5L1179.2 643.1L1182.5 648.2L1185.7 658.6L1188.9 654.5L1192.2 640.7L1195.4 636.6L1198.6 641.1L1201.8 658.9L1205.1 656.3L1208.3 640.1L1211.5 637.2L1214.8 644.1L1218 661.3L1221.2 663.9L1224.5 656.7L1227.7 648.7L1230.9 646.4L1234.1 655.7L1237.4 640.9L1240.6 639.1L1243.8 670.8L1247.1 676.3L1250.3 672.1L1253.5 675.2L1256.8 670.9L1260 678.4L1263.2 670.6L1266.4 662.1L1269.7 665.8L1272.9 659.6L1276.1 654.6L1279.4 648.2L1282.6 651L1285.8 669.7L1289 651.9L1292.3 668.2L1295.5 645.9L1298.7 639.7L1302 643.9L1305.2 641.3L1308.4 631.4L1311.7 630.3L1314.9 633.3L1318.1 629.6L1321.3 644.5L1324.6 653.7L1327.8 644.8L1331 632.4L1334.3 627.9L1337.5 618.5" stroke="#4fdc4a" stroke-width="1.1" fill="none" stroke-linejoin="round"/>
<line x1="165.5" y1="155" x2="165.5" y2="762" stroke="#5b6172" stroke-width="1" stroke-dasharray="6,4.5" stroke-opacity=".8"/>
<rect x="45.5" y="154.5" width="1361" height="640" fill="none" stroke="#e3e4e8" stroke-width="1"/>
<line x1="95.5" y1="155" x2="95.5" y2="760" stroke="#434853" stroke-width="1"/>
<line x1="1356.2" y1="155" x2="1356.2" y2="778" stroke="#434853" stroke-width="1"/>
<line x1="46" y1="442.2" x2="1406" y2="442.2" stroke="#434853" stroke-width="1"/>
<line x1="46" y1="607.4" x2="1406" y2="607.4" stroke="#434853" stroke-width="1"/>
<line x1="95" y1="760" x2="1357" y2="760" stroke="#434853" stroke-width="1"/>
<rect x="46" y="760.7" width="1360" height="18" fill="#fff"/>
<line x1="1356.2" y1="760" x2="1356.2" y2="766" stroke="#434853" stroke-width="1"/>
<g font-family="Liberation Sans, sans-serif" font-size="11" fill="#40454f">
<text x="88.5" y="183.6" text-anchor="end" >0.76000</text>
<text x="1363.5" y="183.6" text-anchor="start" >0.76000</text>
<path d="M91.5 179.6h4M1356.5 179.6h4" stroke="#3f4450" stroke-width="1"/>
<text x="88.5" y="218.3" text-anchor="end" >0.74000</text>
<text x="1363.5" y="218.3" text-anchor="start" >0.74000</text>
<path d="M91.5 214.3h4M1356.5 214.3h4" stroke="#3f4450" stroke-width="1"/>
<text x="88.5" y="252.9" text-anchor="end" >0.72000</text>
<text x="1363.5" y="252.9" text-anchor="start" >0.72000</text>
<path d="M91.5 248.9h4M1356.5 248.9h4" stroke="#3f4450" stroke-width="1"/>
<text x="88.5" y="287.6" text-anchor="end" >0.70000</text>
<text x="1363.5" y="287.6" text-anchor="start" >0.70000</text>
<path d="M91.5 283.6h4M1356.5 283.6h4" stroke="#3f4450" stroke-width="1"/>
<text x="88.5" y="322.2" text-anchor="end" >0.68000</text>
<text x="1363.5" y="322.2" text-anchor="start" >0.68000</text>
<path d="M91.5 318.2h4M1356.5 318.2h4" stroke="#3f4450" stroke-width="1"/>
<text x="88.5" y="391.5" text-anchor="end" >0.64000</text>
<text x="1363.5" y="391.5" text-anchor="start" >0.64000</text>
<path d="M91.5 387.5h4M1356.5 387.5h4" stroke="#3f4450" stroke-width="1"/>
<text x="88.5" y="426.1" text-anchor="end" >0.62000</text>
<text x="1363.5" y="426.1" text-anchor="start" >0.62000</text>
<path d="M91.5 422.1h4M1356.5 422.1h4" stroke="#3f4450" stroke-width="1"/>
<text x="88.5" y="475.9" text-anchor="end" >0.0050</text>
<text x="1398.5" y="475.9" text-anchor="end" >0.0050</text>
<path d="M91.5 471.9h4M1356.5 471.9h4" stroke="#3f4450" stroke-width="1"/>
<text x="88.5" y="511" text-anchor="end" >0.0000</text>
<text x="1398.5" y="511" text-anchor="end" >0.0000</text>
<path d="M91.5 507h4M1356.5 507h4" stroke="#3f4450" stroke-width="1"/>
<text x="88.5" y="546.1" text-anchor="end" >-0.0050</text>
<text x="1398.5" y="546.1" text-anchor="end" >-0.0050</text>
<path d="M91.5 542.1h4M1356.5 542.1h4" stroke="#3f4450" stroke-width="1"/>
<text x="88.5" y="581.2" text-anchor="end" >-0.0100</text>
<text x="1398.5" y="581.2" text-anchor="end" >-0.0100</text>
<path d="M91.5 577.2h4M1356.5 577.2h4" stroke="#3f4450" stroke-width="1"/>
<text x="88.5" y="650.2" text-anchor="end" >60.0000</text>
<text x="1364" y="650.2" text-anchor="start" >60.0000</text>
<path d="M91.5 646.2h4M1356.5 646.2h4" stroke="#3f4450" stroke-width="1"/>
<text x="88.5" y="703.2" text-anchor="end" >40.0000</text>
<text x="1364" y="703.2" text-anchor="start" >40.0000</text>
<path d="M91.5 699.2h4M1356.5 699.2h4" stroke="#3f4450" stroke-width="1"/>
<text x="88.5" y="756.2" text-anchor="end" >20.0000</text>
<text x="1364" y="756.2" text-anchor="start" >20.0000</text>
<path d="M91.5 752.2h4M1356.5 752.2h4" stroke="#3f4450" stroke-width="1"/>
<text x="298.8" y="778" text-anchor="middle" >Nov</text>
<path d="M298.8 760v4" stroke="#3f4450" stroke-width="1"/>
<text x="443.5" y="778" text-anchor="middle" font-weight="bold">2022</text>
<path d="M443.5 760v4" stroke="#3f4450" stroke-width="1"/>
<text x="576.5" y="778" text-anchor="middle" >Mar</text>
<path d="M576.5 760v4" stroke="#3f4450" stroke-width="1"/>
<text x="718.6" y="778" text-anchor="middle" >May</text>
<path d="M718.6 760v4" stroke="#3f4450" stroke-width="1"/>
<text x="860.5" y="778" text-anchor="middle" >Jul</text>
<path d="M860.5 760v4" stroke="#3f4450" stroke-width="1"/>
<text x="1002.7" y="778" text-anchor="middle" >Sep</text>
<path d="M1002.7 760v4" stroke="#3f4450" stroke-width="1"/>
<text x="1141.6" y="778" text-anchor="middle" >Nov</text>
<path d="M1141.6 760v4" stroke="#3f4450" stroke-width="1"/>
<text x="1283.7" y="778" text-anchor="middle" font-weight="bold">2023</text>
<path d="M1283.7 760v4" stroke="#3f4450" stroke-width="1"/>
</g>
<g font-family="Liberation Sans, sans-serif" font-size="11" font-weight="bold" fill="#fff">
<rect x="46" y="256.3" width="50.2" height="16.4" fill="#dd5fa6"/><path d="M92.5 264.7h3" stroke="#fff" stroke-width="1"/><text x="88.5" y="268.3" text-anchor="end" >0.71069</text>
<rect x="1355.7" y="256.3" width="50.3" height="16.400" fill="#dd5fa6"/><path d="M1357 264.7h3" stroke="#fff" stroke-width="1"/><text x="1363.5" y="268.3" text-anchor="start" >0.71069</text>
<rect x="46" y="345.3" width="50.2" height="16.3" fill="#454a58"/><path d="M92.5 353.600h3" stroke="#fff" stroke-width="1"/><text x="88.5" y="357.2" text-anchor="end" >0.65946</text>
<rect x="1355.7" y="345.3" width="50.3" height="16.300" fill="#454a58"/><path d="M1357 353.600h3" stroke="#fff" stroke-width="1"/><text x="1363.5" y="357.2" text-anchor="start" >0.65946</text>
<rect x="135.5" y="761.5" width="60" height="17" fill="#444957"/><text x="165.5" y="775" text-anchor="middle" >03 Sep '21</text>
</g>
<g font-family="Liberation Sans, sans-serif">
<circle cx="108.400" cy="172.600" r="6" fill="none" stroke="#3b404b" stroke-width="1.100"/><path d="M105.400 171.300L108.400 174.500L111.400 171.300" fill="none" stroke="#3b404b" stroke-width="1.100"/>
<rect x="122.300" y="166.800" width="12.400" height="11.600" rx="1" fill="none" stroke="#3b404b" stroke-width="1.100"/><path d="M124.500 172.600H132.500" stroke="#3b404b" stroke-width="1.100"/>
<text x="141.500" y="178.500" font-size="15.600" fill="#3d424c" textLength="98" lengthAdjust="spacingAndGlyphs">AUD/USD, 1D</text>
<path d="M246 170.5h6.6l-3.300 3.300z" fill="#9a9da3" fill-opacity="0.3"/>
<text x="268.5" y="178.500" font-size="15.600" fill="#3d424c">O</text>
<text x="281.5" y="178.500" font-size="14.600" font-weight="bold" fill="#2ebd85" textLength="54" lengthAdjust="spacingAndGlyphs">0.73985</text>
<text x="346" y="178.500" font-size="15.600" fill="#3d424c">H</text>
<text x="359.5" y="178.500" font-size="14.600" font-weight="bold" fill="#2ebd85" textLength="54" lengthAdjust="spacingAndGlyphs">0.74776</text>
<text x="424.5" y="178.500" font-size="15.600" fill="#3d424c">L</text>
<text x="434.5" y="178.500" font-size="14.600" font-weight="bold" fill="#2ebd85" textLength="53" lengthAdjust="spacingAndGlyphs">0.73951</text>
<text x="498" y="178.500" font-size="15.600" fill="#3d424c">C</text>
<text x="509.5" y="178.500" font-size="14.600" font-weight="bold" fill="#2ebd85" textLength="54" lengthAdjust="spacingAndGlyphs">0.74495</text>
<g font-size="12" fill="#3d424c">
<text x="102.500" y="197.800" textLength="84.500" lengthAdjust="spacingAndGlyphs">MA (50, close, 0)</text>
<text x="102.500" y="218.400" textLength="91.500" lengthAdjust="spacingAndGlyphs">MA (100, close, 0)</text>
<text x="102.500" y="238.700" textLength="91.500" lengthAdjust="spacingAndGlyphs">MA (200, close, 0)</text>
<text x="102.500" y="258.800" textLength="49.500" lengthAdjust="spacingAndGlyphs">BB (20, 2)</text>
<text x="102" y="462" textLength="121.500" lengthAdjust="spacingAndGlyphs">MACD (12, 26, close, 9)</text>
<text x="102" y="627.300" textLength="40.500" lengthAdjust="spacingAndGlyphs">RSI (14)</text>
</g>
<path d="M194.5 192.5h6.6l-3.300 3.300z" fill="#9a9da3" fill-opacity="0.35"/>
<path d="M201 213h6.6l-3.300 3.300z" fill="#9a9da3" fill-opacity="0.35"/>
<path d="M201 233.5h6.6l-3.300 3.300z" fill="#9a9da3" fill-opacity="0.35"/>
<path d="M157 253.7h6.6l-3.300 3.300z" fill="#9a9da3" fill-opacity="0.35"/>
<path d="M229.5 456.5h6.6l-3.300 3.300z" fill="#9a9da3" fill-opacity="0.6"/>
<path d="M148 621.5h6.6l-3.300 3.300z" fill="#9a9da3" fill-opacity="0.5"/>
<rect x="210.4" y="187.2" width="13.8" height="13.8" fill="#b9bbb9" fill-opacity="0.8"/><ellipse cx="217.3" cy="194.1" rx="4.6" ry="3.4" fill="none" stroke="#fff" stroke-opacity=".8" stroke-width="1.3"/><circle cx="217.3" cy="194.1" r="1.5" fill="#fff" fill-opacity=".85"/><rect x="227.4" y="187.2" width="13.8" height="13.8" fill="#b9bbb9" fill-opacity="0.8"/><circle cx="234.3" cy="194.1" r="3" fill="none" stroke="#fff" stroke-opacity=".75" stroke-width="1.8"/><circle cx="234.3" cy="194.1" r="4.6" fill="none" stroke="#fff" stroke-opacity=".75" stroke-width="1.6" stroke-dasharray="1.8,1.8"/><rect x="244.4" y="187.2" width="13.8" height="13.8" fill="#b9bbb9" fill-opacity="0.8"/><path d="M247.3 190.1L255.3 198.1M255.3 190.1L247.3 198.1" stroke="#fff" stroke-opacity=".8" stroke-width="1.3" fill="none"/>
<rect x="217.0" y="208.0" width="13.8" height="13.8" fill="#b9bbb9" fill-opacity="0.8"/><ellipse cx="223.9" cy="214.9" rx="4.6" ry="3.4" fill="none" stroke="#fff" stroke-opacity=".8" stroke-width="1.3"/><circle cx="223.9" cy="214.9" r="1.5" fill="#fff" fill-opacity=".85"/><rect x="234.0" y="208.0" width="13.8" height="13.8" fill="#b9bbb9" fill-opacity="0.8"/><circle cx="240.9" cy="214.9" r="3" fill="none" stroke="#fff" stroke-opacity=".75" stroke-width="1.8"/><circle cx="240.9" cy="214.9" r="4.6" fill="none" stroke="#fff" stroke-opacity=".75" stroke-width="1.6" stroke-dasharray="1.8,1.8"/><rect x="251.0" y="208.0" width="13.8" height="13.8" fill="#b9bbb9" fill-opacity="0.8"/><path d="M253.9 210.9L261.9 218.9M261.9 210.9L253.9 218.9" stroke="#fff" stroke-opacity=".8" stroke-width="1.3" fill="none"/>
<rect x="217.0" y="228.2" width="13.8" height="13.8" fill="#b9bbb9" fill-opacity="0.8"/><ellipse cx="223.9" cy="235.1" rx="4.6" ry="3.4" fill="none" stroke="#fff" stroke-opacity=".8" stroke-width="1.3"/><circle cx="223.9" cy="235.1" r="1.5" fill="#fff" fill-opacity=".85"/><rect x="234.0" y="228.2" width="13.8" height="13.8" fill="#b9bbb9" fill-opacity="0.8"/><circle cx="240.9" cy="235.1" r="3" fill="none" stroke="#fff" stroke-opacity=".75" stroke-width="1.8"/><circle cx="240.9" cy="235.1" r="4.6" fill="none" stroke="#fff" stroke-opacity=".75" stroke-width="1.6" stroke-dasharray="1.8,1.8"/><rect x="251.0" y="228.2" width="13.8" height="13.8" fill="#b9bbb9" fill-opacity="0.8"/><path d="M253.9 231.1L261.9 239.1M261.9 231.1L253.9 239.1" stroke="#fff" stroke-opacity=".8" stroke-width="1.3" fill="none"/>
<rect x="175.2" y="248.2" width="13.8" height="13.8" fill="#3b9fe6" fill-opacity="1"/><ellipse cx="182.1" cy="255.1" rx="4.6" ry="3.4" fill="none" stroke="#fff" stroke-opacity=".8" stroke-width="1.3"/><circle cx="182.1" cy="255.1" r="1.5" fill="#fff" fill-opacity=".85"/><rect x="192.2" y="248.2" width="13.8" height="13.8" fill="#b9bbb9" fill-opacity="0.8"/><circle cx="199.1" cy="255.1" r="3" fill="none" stroke="#fff" stroke-opacity=".75" stroke-width="1.8"/><circle cx="199.1" cy="255.1" r="4.6" fill="none" stroke="#fff" stroke-opacity=".75" stroke-width="1.6" stroke-dasharray="1.8,1.8"/><rect x="209.2" y="248.2" width="13.8" height="13.8" fill="#b9bbb9" fill-opacity="0.8"/><path d="M212.1 251.1L220.1 259.1M220.1 251.1L212.1 259.1" stroke="#fff" stroke-opacity=".8" stroke-width="1.3" fill="none"/>
<rect x="245.6" y="451.3" width="14.2" height="14.2" fill="#b9bbb9" fill-opacity="0.8"/><ellipse cx="252.7" cy="458.4" rx="4.6" ry="3.4" fill="none" stroke="#fff" stroke-opacity=".8" stroke-width="1.3"/><circle cx="252.7" cy="458.4" r="1.5" fill="#fff" fill-opacity=".85"/><rect x="262.4" y="451.3" width="14.2" height="14.2" fill="#b9bbb9" fill-opacity="0.8"/><circle cx="269.5" cy="458.4" r="3" fill="none" stroke="#fff" stroke-opacity=".75" stroke-width="1.8"/><circle cx="269.5" cy="458.4" r="4.6" fill="none" stroke="#fff" stroke-opacity=".75" stroke-width="1.6" stroke-dasharray="1.8,1.8"/><rect x="279.2" y="451.3" width="14.2" height="14.2" fill="#b9bbb9" fill-opacity="0.8"/><path d="M282.3 454.4L290.3 462.4M290.3 454.4L282.3 462.4" stroke="#fff" stroke-opacity=".8" stroke-width="1.3" fill="none"/>
<rect x="164.6" y="616.2" width="14.2" height="14.2" fill="#b9bbb9" fill-opacity="0.8"/><ellipse cx="171.7" cy="623.3" rx="4.6" ry="3.4" fill="none" stroke="#fff" stroke-opacity=".8" stroke-width="1.3"/><circle cx="171.7" cy="623.3" r="1.5" fill="#fff" fill-opacity=".85"/><rect x="181.8" y="616.2" width="14.2" height="14.2" fill="#b9bbb9" fill-opacity="0.8"/><circle cx="188.9" cy="623.3" r="3" fill="none" stroke="#fff" stroke-opacity=".75" stroke-width="1.8"/><circle cx="188.9" cy="623.3" r="4.6" fill="none" stroke="#fff" stroke-opacity=".75" stroke-width="1.6" stroke-dasharray="1.8,1.8"/><rect x="199.0" y="616.2" width="14.2" height="14.2" fill="#b9bbb9" fill-opacity="0.8"/><path d="M202.1 619.3L210.1 627.3M210.1 619.3L202.1 627.3" stroke="#fff" stroke-opacity=".8" stroke-width="1.3" fill="none"/>
<g font-size="12.400">
<text x="266.500" y="197.800" fill="#ea33e8" textLength="36" lengthAdjust="spacingAndGlyphs">0.7373</text>
<text x="273.300" y="218.400" fill="#2525f5" textLength="36" lengthAdjust="spacingAndGlyphs">0.7547</text>
<text x="273.300" y="238.700" fill="#f02a2a" textLength="36" lengthAdjust="spacingAndGlyphs">0.7607</text>
<text x="302" y="462" fill="#f02a2a" textLength="36" lengthAdjust="spacingAndGlyphs">0.0028</text>
<text x="350" y="462" fill="#2525f5" textLength="40" lengthAdjust="spacingAndGlyphs">-0.0002</text>
<text x="401" y="462" fill="#f02a2a" textLength="41" lengthAdjust="spacingAndGlyphs">-0.0030</text>
<text x="221" y="627.300" fill="#22e022" textLength="44" lengthAdjust="spacingAndGlyphs">61.8726</text>
</g></g>
<g fill="none" stroke="#434853" stroke-width=".9" stroke-linecap="round" stroke-linejoin="round">
<!-- crosshair tool (active) -->
<rect x="4" y="120" width="22" height="22" rx="4" fill="#e6f7fb" stroke="none"/>
<path d="M15 124.200V129M15 133.400V138.200M7.800 131.200H13.300M17.700 131.200H22.600" stroke="#5a86c2" stroke-width=".95"/>
<!-- line -->
<path d="M10.400 161.600L19.800 152.300"/><rect x="8.400" y="161.200" width="2.400" height="2.400"/><rect x="19.400" y="150.300" width="2.400" height="2.400"/>
<!-- pitchfork -->
<path d="M10 180.300L14.600 176M10 187.800L18.700 179.400M17.500 187.800L22 183.300M10.300 182L16.700 187.600"/>
<rect x="8.200" y="180" width="2.200" height="2.200"/><rect x="8.200" y="187.400" width="2.200" height="2.200"/><rect x="15.600" y="187.400" width="2.200" height="2.200"/>
<!-- brush -->
<path d="M7.900 214.500C9.300 211.500 11.300 208.500 13.800 208.300C16.300 208.300 17 211 15.600 212.900C14.500 214.300 11 214.500 7.900 214.500ZM16.600 205.300C16.400 206.800 17 207.800 18 207.700L23.500 204.300"/>
<!-- T -->
<path d="M11.300 231V229.600H19.800V231M15.550 229.600V240.800M13.700 240.800H17.400"/>
<!-- pattern -->
<path d="M11 255L14.500 260L19.300 255.800L21 264.200L14.500 260L9.500 266.200ZM11 255L9.500 266.200M19.300 255.800L14 262"/>
<circle cx="11" cy="254.700" r="1.100" fill="#fff"/><circle cx="19.500" cy="255.500" r="1.100" fill="#fff"/><circle cx="9.400" cy="266.500" r="1.300" fill="#fff"/><circle cx="21" cy="264.500" r="1.300" fill="#fff"/>
<!-- projection -->
<path d="M9.800 281.500H22M9.800 288.700H20"/><path d="M9.800 293.100H22" stroke="#b5b8bf" stroke-width="1.600"/>
<circle cx="8.600" cy="281.500" r="1.300"/><circle cx="8.600" cy="288.700" r="1.300"/><circle cx="21.300" cy="288.700" r="1.300"/><circle cx="8.600" cy="293.100" r="1.300"/>
<path d="M15.500 283.500V291.500M14 285L15.500 283.300L17 285M14 290L15.500 291.700L17 290"/>
<!-- help -->
<circle cx="15" cy="313.300" r="5.800" fill="#2f3440" stroke="none"/>
<path d="M13.100 311.600C13.100 309.500 17 309.500 17 311.700C17 313.100 15.100 313.100 15.100 314.700" stroke="#fff" stroke-width="1.500"/><circle cx="15.100" cy="316.600" r=".9" fill="#fff" stroke="none"/>
<!-- ruler -->
<path d="M8.400 356.500L19.800 345.400L22.300 348L10.900 359.100ZM11 354L12.300 355.300M13.200 351.900L14.500 353.200M15.400 349.800L16.700 351.100M17.600 347.700L18.900 349"/>
<!-- zoom -->
<circle cx="13.600" cy="377" r="5.300"/><path d="M17.500 380.900L19.700 383.100M11.600 377H15.600M13.600 375V379"/>
<!-- magnet -->
<path d="M10.300 422.500V415.300C10.300 408.800 20 408.800 20 415.300V422.500H16.700V415.500C16.700 413.200 13.600 413.200 13.600 415.500V422.500ZM10.300 420H13.600M16.700 420H20"/>
<!-- pencil + lock -->
<path d="M8.500 445.300L9.300 442.300L15.600 436.200L17.800 438.400L11.500 444.500ZM10.500 441.300L12.600 443.400"/>
<rect x="15.800" y="446" width="5.300" height="4" rx=".6" fill="#fff"/><path d="M17 446V444.600C17 443 19.600 443 19.600 444.200"/>
<!-- open lock -->
<rect x="10.300" y="467.500" width="9.700" height="7.500" rx=".8"/><path d="M12.600 467.500V465C12.600 461.600 18 461.600 18 464.300"/><circle cx="15.100" cy="471.300" r=".7" fill="#3b404b"/>
<!-- eye -->
<ellipse cx="14.700" cy="494.900" rx="6.300" ry="4.300"/><circle cx="14.700" cy="494.900" r="1.700" fill="#3b404b"/>
<!-- layers -->
<path d="M14.700 523L20.600 530.300L14.700 536.400L8.900 530.300ZM9.800 533.200L14.700 538.400L19.700 533.200M10.700 536L14.700 540.400L18.800 536"/>
<!-- trash -->
<path d="M9.900 554.600H19.800M12.500 554.600C12.500 552.400 17.200 552.400 17.200 554.600M10.700 555.600V565.300C10.700 566.200 11.300 566.800 12.200 566.800H17.500C18.400 566.800 19 566.200 19 565.300V555.600M13 557.500V564.300M14.850 557.500V564.300M16.700 557.500V564.300"/>
<!-- collapse handle -->
<rect x="40.500" y="704.200" width="6.900" height="59" fill="#fff" stroke="#d5d7dc"/>
<path d="M46.400 731.800V736.600L41.900 734.200Z" fill="#2f3440" stroke="none"/>
<!-- top toolbar icons -->
<path d="M83.800 130.200H90.800L87.300 133.600Z" fill="#2f3440" stroke="none"/>
<rect x="119.400" y="126" width="2.900" height="10"/><path d="M120.850 123.400V126M120.850 136V138.600"/>
<rect x="126.500" y="127.700" width="3" height="6.300"/><path d="M128 125.500V127.700M128 134V136.200"/>
<path d="M143.300 130.200H150.300L146.800 133.600Z" fill="#2f3440" stroke="none"/>
<circle cx="177.800" cy="125" r="1.100"/><path d="M177.800 126.200V128.800M172.300 132.200L183.400 130.600M175.500 130.300L180.300 129.700"/><circle cx="172.100" cy="134.300" r="2"/><circle cx="183.300" cy="133.700" r="2"/>
<path d="M265 133.200C266.500 131.500 267.800 130.200 269 130.400C270.500 130.700 271.500 132.600 273 132.400C274.500 132.200 276 130.500 277.600 129.400"/>
<path d="M1271.400 130.200H1278.400L1274.900 133.600Z" fill="#2f3440" stroke="none"/>
<rect x="1301.700" y="122.500" width="17.700" height="15.800" rx="2.300" stroke="#2f3441" stroke-width="1.250"/>
<!-- gear -->
<circle cx="1349" cy="131.200" r="1.700"/>
<path transform="translate(1349 131.200) scale(.9) translate(-1349 -131.200)" d="M1347.500 124.900L1350.500 124.900L1351 126.600L1353 127.500L1354.600 126.600L1356.100 129.200L1354.800 130.400L1354.800 132L1356.100 133.200L1354.600 135.800L1353 134.900L1351 135.800L1350.500 137.500L1347.500 137.500L1347 135.800L1345 134.900L1343.400 135.800L1341.900 133.200L1343.200 132L1343.200 130.400L1341.900 129.200L1343.400 126.600L1345 127.500L1347 126.600Z"/>
<!-- fullscreen -->
<path d="M1383 128.500V126H1385.500M1383.300 126.300L1386 129M1393 128.500V126H1390.500M1392.700 126.300L1390 129M1383 133.500V136H1385.500M1383.300 135.700L1386 133M1393 133.500V136H1390.500M1392.700 135.700L1390 133"/>
</g>

</svg>

</body></html>
